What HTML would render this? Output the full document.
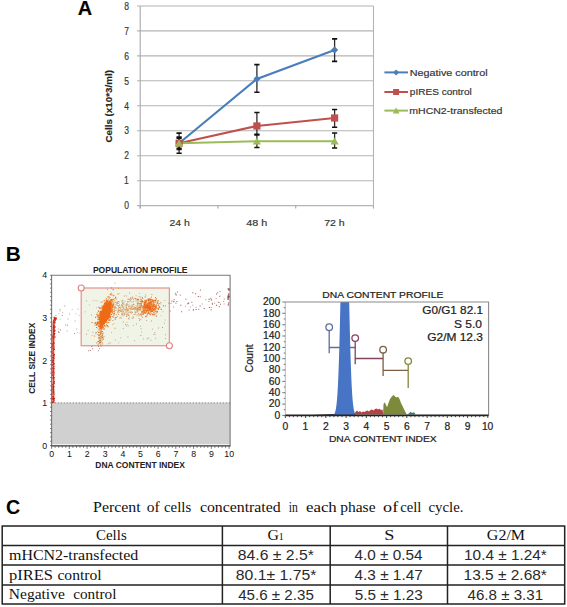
<!DOCTYPE html>
<html><head><meta charset="utf-8"><style>
html,body{margin:0;padding:0;background:#fff;}
body{width:567px;height:607px;overflow:hidden;}
svg{display:block;}
.pa text{stroke:#3a3a3a;stroke-width:0.18px;}
.pb2 text{stroke:#222;stroke-width:0.22px;}
</style></head><body>
<svg width="567" height="607" viewBox="0 0 567 607">
<rect width="567" height="607" fill="#fff"/>
<g class="pa">
<text x="77.80" y="15.00" font-family="Liberation Sans, sans-serif" font-size="19.5" font-weight="bold" fill="#000" textLength="14.44" lengthAdjust="spacingAndGlyphs">A</text>
<line x1="137" y1="205.6" x2="373.5" y2="205.6" stroke="#b4b4b4" stroke-width="1.1"/>
<text x="124.22" y="209.30" font-family="Liberation Sans, sans-serif" font-size="10.4" fill="#333" textLength="4.74" lengthAdjust="spacingAndGlyphs">0</text>
<line x1="137" y1="180.7" x2="373.5" y2="180.7" stroke="#b4b4b4" stroke-width="1.1"/>
<text x="124.12" y="184.35" font-family="Liberation Sans, sans-serif" font-size="10.4" fill="#333" textLength="4.74" lengthAdjust="spacingAndGlyphs">1</text>
<line x1="137" y1="155.7" x2="373.5" y2="155.7" stroke="#b4b4b4" stroke-width="1.1"/>
<text x="124.23" y="159.40" font-family="Liberation Sans, sans-serif" font-size="10.4" fill="#333" textLength="4.74" lengthAdjust="spacingAndGlyphs">2</text>
<line x1="137" y1="130.8" x2="373.5" y2="130.8" stroke="#b4b4b4" stroke-width="1.1"/>
<text x="124.25" y="134.45" font-family="Liberation Sans, sans-serif" font-size="10.4" fill="#333" textLength="4.74" lengthAdjust="spacingAndGlyphs">3</text>
<line x1="137" y1="105.8" x2="373.5" y2="105.8" stroke="#b4b4b4" stroke-width="1.1"/>
<text x="124.25" y="109.50" font-family="Liberation Sans, sans-serif" font-size="10.4" fill="#333" textLength="4.74" lengthAdjust="spacingAndGlyphs">4</text>
<line x1="137" y1="80.8" x2="373.5" y2="80.8" stroke="#b4b4b4" stroke-width="1.1"/>
<text x="124.23" y="84.55" font-family="Liberation Sans, sans-serif" font-size="10.4" fill="#333" textLength="4.74" lengthAdjust="spacingAndGlyphs">5</text>
<line x1="137" y1="55.9" x2="373.5" y2="55.9" stroke="#b4b4b4" stroke-width="1.1"/>
<text x="124.20" y="59.60" font-family="Liberation Sans, sans-serif" font-size="10.4" fill="#333" textLength="4.74" lengthAdjust="spacingAndGlyphs">6</text>
<line x1="137" y1="30.9" x2="373.5" y2="30.9" stroke="#b4b4b4" stroke-width="1.1"/>
<text x="124.23" y="34.65" font-family="Liberation Sans, sans-serif" font-size="10.4" fill="#333" textLength="4.74" lengthAdjust="spacingAndGlyphs">7</text>
<line x1="137" y1="6.0" x2="373.5" y2="6.0" stroke="#b4b4b4" stroke-width="1.1"/>
<text x="124.23" y="9.70" font-family="Liberation Sans, sans-serif" font-size="10.4" fill="#333" textLength="4.74" lengthAdjust="spacingAndGlyphs">8</text>
<line x1="140.2" y1="6.0" x2="140.2" y2="208.6" stroke="#a8a8a8" stroke-width="1.1"/>
<line x1="373.5" y1="6.0" x2="373.5" y2="205.6" stroke="#b4b4b4" stroke-width="1.1"/>
<line x1="140.2" y1="205.6" x2="140.2" y2="208.6" stroke="#a8a8a8" stroke-width="1.1"/>
<line x1="218.0" y1="205.6" x2="218.0" y2="208.6" stroke="#a8a8a8" stroke-width="1.1"/>
<line x1="295.7" y1="205.6" x2="295.7" y2="208.6" stroke="#a8a8a8" stroke-width="1.1"/>
<line x1="373.5" y1="205.6" x2="373.5" y2="208.6" stroke="#a8a8a8" stroke-width="1.1"/>
<text x="169.48" y="226.00" font-family="Liberation Sans, sans-serif" font-size="9.8" fill="#333" textLength="20.29" lengthAdjust="spacingAndGlyphs">24 h</text>
<text x="246.16" y="226.00" font-family="Liberation Sans, sans-serif" font-size="9.8" fill="#333" textLength="21.03" lengthAdjust="spacingAndGlyphs">48 h</text>
<text x="324.17" y="226.00" font-family="Liberation Sans, sans-serif" font-size="9.8" fill="#333" textLength="20.61" lengthAdjust="spacingAndGlyphs">72 h</text>
<text transform="translate(112.30,142.20) rotate(-90)" x="-0.39" y="0" font-family="Liberation Sans, sans-serif" font-size="9.2" font-weight="bold" fill="#222" textLength="72.49" lengthAdjust="spacingAndGlyphs">Cells (x10*3/ml)</text>
<path d="M179.1 133.1V153.3" stroke="#2a2a2a" stroke-width="1.3" fill="none"/><path d="M176.5 133.1h5.2M176.5 153.3h5.2" stroke="#111" stroke-width="1.6" fill="none"/><path d="M256.9 64.6V92.3" stroke="#2a2a2a" stroke-width="1.3" fill="none"/><path d="M254.3 64.6h5.2M254.3 92.3h5.2" stroke="#111" stroke-width="1.6" fill="none"/><path d="M334.6 38.9V61.4" stroke="#2a2a2a" stroke-width="1.3" fill="none"/><path d="M332.0 38.9h5.2M332.0 61.4h5.2" stroke="#111" stroke-width="1.6" fill="none"/><path d="M179.1 137.1V149.5" stroke="#2a2a2a" stroke-width="1.3" fill="none"/><path d="M176.5 137.1h5.2M176.5 149.5h5.2" stroke="#111" stroke-width="1.6" fill="none"/><path d="M256.9 112.5V134.2" stroke="#2a2a2a" stroke-width="1.3" fill="none"/><path d="M254.3 112.5h5.2M254.3 134.2h5.2" stroke="#111" stroke-width="1.6" fill="none"/><path d="M334.6 109.5V127.3" stroke="#2a2a2a" stroke-width="1.3" fill="none"/><path d="M332.0 109.5h5.2M332.0 127.3h5.2" stroke="#111" stroke-width="1.6" fill="none"/><path d="M179.1 138.2V148.2" stroke="#2a2a2a" stroke-width="1.3" fill="none"/><path d="M176.5 138.2h5.2M176.5 148.2h5.2" stroke="#111" stroke-width="1.6" fill="none"/><path d="M256.9 135.0V147.5" stroke="#2a2a2a" stroke-width="1.3" fill="none"/><path d="M254.3 135.0h5.2M254.3 147.5h5.2" stroke="#111" stroke-width="1.6" fill="none"/><path d="M334.6 133.0V148.0" stroke="#2a2a2a" stroke-width="1.3" fill="none"/><path d="M332.0 133.0h5.2M332.0 148.0h5.2" stroke="#111" stroke-width="1.6" fill="none"/>
<polyline points="179.1,143.2 256.9,78.9 334.6,49.9" fill="none" stroke="#4a7ebb" stroke-width="2.1"/>
<polyline points="179.1,143.2 256.9,126.0 334.6,118.0" fill="none" stroke="#c0504d" stroke-width="2.1"/>
<polyline points="179.1,143.2 256.9,141.2 334.6,141.2" fill="none" stroke="#9bbb59" stroke-width="2.1"/>
<path d="M179.1 139.6L182.7 143.2L179.1 146.8L175.5 143.2Z" fill="#4a7ebb"/>
<path d="M256.9 75.3L260.5 78.9L256.9 82.5L253.3 78.9Z" fill="#4a7ebb"/>
<path d="M334.6 46.3L338.2 49.9L334.6 53.5L331.0 49.9Z" fill="#4a7ebb"/>
<rect x="175.5" y="139.6" width="7.2" height="7.2" fill="#c0504d"/>
<rect x="253.3" y="122.4" width="7.2" height="7.2" fill="#c0504d"/>
<rect x="331.0" y="114.4" width="7.2" height="7.2" fill="#c0504d"/>
<path d="M179.1 139.6L183.2 146.6L174.9 146.6Z" fill="#9bbb59"/>
<path d="M256.9 137.6L261.0 144.6L252.7 144.6Z" fill="#9bbb59"/>
<path d="M334.6 137.6L338.8 144.6L330.5 144.6Z" fill="#9bbb59"/>
<line x1="384.4" y1="72.4" x2="408" y2="72.4" stroke="#4a7ebb" stroke-width="2"/>
<path d="M396.1 69.4L399.1 72.4L396.1 75.4L393.1 72.4Z" fill="#4a7ebb"/>
<text x="409.81" y="75.50" font-family="Liberation Sans, sans-serif" font-size="9.0" fill="#333" textLength="77.80" lengthAdjust="spacingAndGlyphs">Negative control</text>
<line x1="384.4" y1="92" x2="408" y2="92" stroke="#c0504d" stroke-width="2"/>
<rect x="393.1" y="89.0" width="6.0" height="6.0" fill="#c0504d"/>
<text x="409.85" y="95.00" font-family="Liberation Sans, sans-serif" font-size="9.0" fill="#333" textLength="61.93" lengthAdjust="spacingAndGlyphs">pIRES control</text>
<line x1="384.4" y1="110.6" x2="408" y2="110.6" stroke="#9bbb59" stroke-width="2"/>
<path d="M396.1 107.6L399.6 113.4L392.7 113.4Z" fill="#9bbb59"/>
<text x="409.29" y="113.70" font-family="Liberation Sans, sans-serif" font-size="9.0" fill="#333" textLength="93.08" lengthAdjust="spacingAndGlyphs">mHCN2-transfected</text>
</g>
<text x="5.69" y="260.60" font-family="Liberation Sans, sans-serif" font-size="19.5" font-weight="bold" fill="#000" textLength="15.04" lengthAdjust="spacingAndGlyphs">B</text>
<text x="92.92" y="272.50" font-family="Liberation Sans, sans-serif" font-size="8.6" font-weight="bold" fill="#222" textLength="94.62" lengthAdjust="spacingAndGlyphs">POPULATION PROFILE</text>
<rect x="51.6" y="402.9" width="178.5" height="41.4" fill="#d0d0d0"/>
<line x1="51.6" y1="402.9" x2="230.1" y2="402.9" stroke="#888" stroke-width="1" stroke-dasharray="1.5 1.5"/>
<rect x="81.2" y="288" width="88.2" height="57.7" fill="#eff4e7" stroke="#e29a94" stroke-width="1.3"/>
<path fill="#f3a040" d="M102.3 317.0h1.1v1.1h-1.1zM107.4 316.2h1.1v1.1h-1.1zM101.0 323.9h1.1v1.1h-1.1zM104.8 303.4h1.1v1.1h-1.1zM101.9 306.3h1.1v1.1h-1.1zM106.1 322.2h1.1v1.1h-1.1zM94.0 335.6h1.1v1.1h-1.1zM104.0 321.8h1.1v1.1h-1.1zM103.2 307.1h1.1v1.1h-1.1zM109.5 310.8h1.1v1.1h-1.1zM103.8 324.2h1.1v1.1h-1.1zM106.8 302.6h1.1v1.1h-1.1zM104.8 310.2h1.1v1.1h-1.1zM108.6 313.2h1.1v1.1h-1.1zM103.3 315.0h1.1v1.1h-1.1zM99.1 312.8h1.1v1.1h-1.1zM104.1 322.4h1.1v1.1h-1.1zM107.5 305.6h1.1v1.1h-1.1zM102.4 322.9h1.1v1.1h-1.1zM101.8 324.9h1.1v1.1h-1.1zM99.4 312.7h1.1v1.1h-1.1zM98.3 314.2h1.1v1.1h-1.1zM109.8 317.1h1.1v1.1h-1.1zM101.6 309.3h1.1v1.1h-1.1zM112.6 303.6h1.1v1.1h-1.1zM98.7 313.3h1.1v1.1h-1.1zM106.5 309.0h1.1v1.1h-1.1zM102.2 319.8h1.1v1.1h-1.1zM100.7 310.8h1.1v1.1h-1.1zM107.2 309.2h1.1v1.1h-1.1zM102.5 308.5h1.1v1.1h-1.1zM105.6 309.1h1.1v1.1h-1.1zM107.3 307.8h1.1v1.1h-1.1zM104.1 314.4h1.1v1.1h-1.1zM108.4 318.3h1.1v1.1h-1.1zM117.8 287.8h1.1v1.1h-1.1zM100.6 316.4h1.1v1.1h-1.1zM103.5 303.6h1.1v1.1h-1.1zM99.4 327.8h1.1v1.1h-1.1zM112.2 306.8h1.1v1.1h-1.1zM104.5 312.8h1.1v1.1h-1.1zM108.4 302.6h1.1v1.1h-1.1zM100.4 313.7h1.1v1.1h-1.1zM113.4 312.9h1.1v1.1h-1.1zM100.5 316.1h1.1v1.1h-1.1zM112.1 308.1h1.1v1.1h-1.1zM108.8 304.2h1.1v1.1h-1.1zM100.6 317.6h1.1v1.1h-1.1zM113.8 300.0h1.1v1.1h-1.1zM109.2 312.2h1.1v1.1h-1.1zM107.6 312.6h1.1v1.1h-1.1zM103.3 317.9h1.1v1.1h-1.1zM106.9 322.3h1.1v1.1h-1.1zM107.5 306.9h1.1v1.1h-1.1zM105.7 308.7h1.1v1.1h-1.1zM101.5 316.2h1.1v1.1h-1.1zM107.9 310.8h1.1v1.1h-1.1zM110.0 307.9h1.1v1.1h-1.1zM106.2 318.3h1.1v1.1h-1.1zM105.4 313.7h1.1v1.1h-1.1zM100.7 318.1h1.1v1.1h-1.1zM108.4 310.4h1.1v1.1h-1.1zM104.6 321.3h1.1v1.1h-1.1zM97.8 314.5h1.1v1.1h-1.1zM103.6 316.0h1.1v1.1h-1.1zM112.3 313.1h1.1v1.1h-1.1zM103.3 316.4h1.1v1.1h-1.1zM104.4 302.7h1.1v1.1h-1.1zM102.5 311.7h1.1v1.1h-1.1zM106.9 289.0h1.1v1.1h-1.1zM114.6 298.1h1.1v1.1h-1.1zM108.1 309.1h1.1v1.1h-1.1zM101.6 314.1h1.1v1.1h-1.1zM114.5 327.8h1.1v1.1h-1.1z"/>
<path fill="#d08040" d="M106.7 318.9h1.1v1.1h-1.1zM109.2 320.0h1.1v1.1h-1.1zM99.3 316.8h1.1v1.1h-1.1zM102.9 305.3h1.1v1.1h-1.1zM106.2 306.4h1.1v1.1h-1.1zM102.9 311.7h1.1v1.1h-1.1zM106.3 312.5h1.1v1.1h-1.1zM101.0 320.9h1.1v1.1h-1.1zM106.2 318.6h1.1v1.1h-1.1zM113.2 303.8h1.1v1.1h-1.1zM100.0 312.3h1.1v1.1h-1.1zM102.7 317.5h1.1v1.1h-1.1zM102.6 307.1h1.1v1.1h-1.1zM104.5 309.1h1.1v1.1h-1.1zM105.4 318.5h1.1v1.1h-1.1zM99.6 334.1h1.1v1.1h-1.1zM106.2 306.2h1.1v1.1h-1.1zM100.3 307.8h1.1v1.1h-1.1zM99.6 326.0h1.1v1.1h-1.1zM95.0 316.8h1.1v1.1h-1.1zM105.6 319.8h1.1v1.1h-1.1zM109.6 307.9h1.1v1.1h-1.1zM106.3 310.4h1.1v1.1h-1.1zM102.4 311.6h1.1v1.1h-1.1zM101.8 314.7h1.1v1.1h-1.1zM110.8 309.8h1.1v1.1h-1.1zM101.8 317.3h1.1v1.1h-1.1zM105.7 318.3h1.1v1.1h-1.1zM99.3 318.7h1.1v1.1h-1.1zM106.5 312.7h1.1v1.1h-1.1zM111.5 303.4h1.1v1.1h-1.1zM103.0 320.3h1.1v1.1h-1.1zM102.7 312.1h1.1v1.1h-1.1zM105.5 311.7h1.1v1.1h-1.1zM111.5 304.7h1.1v1.1h-1.1zM107.8 314.2h1.1v1.1h-1.1zM103.6 307.3h1.1v1.1h-1.1zM105.1 314.4h1.1v1.1h-1.1zM103.5 316.2h1.1v1.1h-1.1zM106.5 310.3h1.1v1.1h-1.1zM105.6 315.7h1.1v1.1h-1.1zM105.8 313.5h1.1v1.1h-1.1zM105.9 306.0h1.1v1.1h-1.1zM109.1 313.9h1.1v1.1h-1.1zM105.4 315.0h1.1v1.1h-1.1zM106.9 312.1h1.1v1.1h-1.1zM105.0 312.5h1.1v1.1h-1.1zM109.7 294.1h1.1v1.1h-1.1zM109.2 314.4h1.1v1.1h-1.1zM103.5 315.5h1.1v1.1h-1.1zM104.9 308.7h1.1v1.1h-1.1zM101.0 314.8h1.1v1.1h-1.1zM97.9 315.3h1.1v1.1h-1.1zM103.5 321.3h1.1v1.1h-1.1zM98.2 325.8h1.1v1.1h-1.1zM102.4 308.6h1.1v1.1h-1.1zM100.4 311.4h1.1v1.1h-1.1zM99.8 317.3h1.1v1.1h-1.1zM107.5 315.7h1.1v1.1h-1.1zM107.7 299.2h1.1v1.1h-1.1zM105.8 307.3h1.1v1.1h-1.1zM102.8 319.0h1.1v1.1h-1.1zM95.1 322.3h1.1v1.1h-1.1zM104.7 313.5h1.1v1.1h-1.1zM111.4 294.3h1.1v1.1h-1.1zM99.4 326.4h1.1v1.1h-1.1zM104.2 307.2h1.1v1.1h-1.1zM107.8 305.9h1.1v1.1h-1.1zM103.1 308.4h1.1v1.1h-1.1zM105.6 321.3h1.1v1.1h-1.1z"/>
<path fill="#f0b868" d="M101.9 301.1h1.1v1.1h-1.1zM107.0 309.2h1.1v1.1h-1.1zM103.3 307.7h1.1v1.1h-1.1zM101.3 317.3h1.1v1.1h-1.1zM107.9 315.5h1.1v1.1h-1.1zM104.2 305.3h1.1v1.1h-1.1zM106.6 308.4h1.1v1.1h-1.1zM107.0 312.2h1.1v1.1h-1.1zM104.3 307.2h1.1v1.1h-1.1zM104.6 310.3h1.1v1.1h-1.1zM101.6 312.7h1.1v1.1h-1.1zM108.9 309.4h1.1v1.1h-1.1zM105.1 302.8h1.1v1.1h-1.1zM112.3 298.6h1.1v1.1h-1.1zM108.6 311.6h1.1v1.1h-1.1zM106.3 307.5h1.1v1.1h-1.1zM105.5 305.5h1.1v1.1h-1.1zM107.1 313.2h1.1v1.1h-1.1zM106.6 314.7h1.1v1.1h-1.1zM113.6 298.3h1.1v1.1h-1.1zM106.8 308.1h1.1v1.1h-1.1zM99.0 315.5h1.1v1.1h-1.1zM114.0 306.6h1.1v1.1h-1.1zM100.8 316.8h1.1v1.1h-1.1zM112.8 295.4h1.1v1.1h-1.1zM107.5 310.0h1.1v1.1h-1.1zM103.6 312.2h1.1v1.1h-1.1zM97.0 331.1h1.1v1.1h-1.1zM106.4 309.6h1.1v1.1h-1.1zM108.2 310.7h1.1v1.1h-1.1zM107.7 312.5h1.1v1.1h-1.1zM109.6 316.1h1.1v1.1h-1.1zM108.0 312.5h1.1v1.1h-1.1zM108.1 313.1h1.1v1.1h-1.1zM109.5 312.5h1.1v1.1h-1.1zM110.0 319.1h1.1v1.1h-1.1zM105.8 317.2h1.1v1.1h-1.1zM101.8 318.5h1.1v1.1h-1.1zM103.8 325.2h1.1v1.1h-1.1zM109.9 296.9h1.1v1.1h-1.1zM110.5 303.4h1.1v1.1h-1.1zM102.0 306.9h1.1v1.1h-1.1zM100.0 327.5h1.1v1.1h-1.1zM109.6 301.1h1.1v1.1h-1.1zM105.8 301.0h1.1v1.1h-1.1zM106.5 312.7h1.1v1.1h-1.1zM108.1 313.7h1.1v1.1h-1.1zM111.8 305.5h1.1v1.1h-1.1zM106.3 304.3h1.1v1.1h-1.1zM107.0 309.5h1.1v1.1h-1.1zM110.6 302.2h1.1v1.1h-1.1zM96.9 311.9h1.1v1.1h-1.1zM102.8 308.7h1.1v1.1h-1.1zM108.4 313.9h1.1v1.1h-1.1zM103.1 310.1h1.1v1.1h-1.1zM102.8 315.7h1.1v1.1h-1.1zM96.5 323.0h1.1v1.1h-1.1zM97.2 321.0h1.1v1.1h-1.1zM104.8 321.1h1.1v1.1h-1.1zM105.2 306.4h1.1v1.1h-1.1zM95.1 331.7h1.1v1.1h-1.1zM101.5 320.1h1.1v1.1h-1.1zM102.0 313.0h1.1v1.1h-1.1zM108.2 302.5h1.1v1.1h-1.1zM102.5 312.2h1.1v1.1h-1.1zM105.5 321.8h1.1v1.1h-1.1zM105.2 313.7h1.1v1.1h-1.1zM97.8 318.1h1.1v1.1h-1.1zM114.4 282.6h1.1v1.1h-1.1zM106.6 321.5h1.1v1.1h-1.1zM94.5 324.9h1.1v1.1h-1.1zM106.2 310.1h1.1v1.1h-1.1zM111.4 300.1h1.1v1.1h-1.1zM101.7 311.0h1.1v1.1h-1.1zM100.2 312.6h1.1v1.1h-1.1zM103.3 319.3h1.1v1.1h-1.1zM102.4 319.9h1.1v1.1h-1.1zM100.4 320.0h1.1v1.1h-1.1zM111.4 315.8h1.1v1.1h-1.1zM100.2 335.6h1.1v1.1h-1.1zM108.9 310.4h1.1v1.1h-1.1zM102.4 321.2h1.1v1.1h-1.1zM103.5 304.1h1.1v1.1h-1.1z"/>
<path fill="#e07020" d="M104.4 304.9h1.1v1.1h-1.1zM108.8 303.5h1.1v1.1h-1.1zM99.1 307.7h1.1v1.1h-1.1zM100.6 319.0h1.1v1.1h-1.1zM107.7 319.6h1.1v1.1h-1.1zM94.7 322.2h1.1v1.1h-1.1zM111.0 287.5h1.1v1.1h-1.1zM96.6 315.2h1.1v1.1h-1.1zM100.2 317.1h1.1v1.1h-1.1zM110.2 311.2h1.1v1.1h-1.1zM105.1 326.2h1.1v1.1h-1.1zM110.9 314.0h1.1v1.1h-1.1zM107.0 309.4h1.1v1.1h-1.1zM111.0 299.1h1.1v1.1h-1.1zM107.6 326.2h1.1v1.1h-1.1zM108.4 316.4h1.1v1.1h-1.1zM107.1 308.5h1.1v1.1h-1.1zM98.4 306.8h1.1v1.1h-1.1zM107.8 305.3h1.1v1.1h-1.1zM111.4 306.6h1.1v1.1h-1.1zM99.5 321.5h1.1v1.1h-1.1zM106.7 303.5h1.1v1.1h-1.1zM103.9 328.4h1.1v1.1h-1.1zM98.7 334.4h1.1v1.1h-1.1zM103.8 321.3h1.1v1.1h-1.1zM102.9 317.3h1.1v1.1h-1.1zM99.2 317.6h1.1v1.1h-1.1zM108.2 322.0h1.1v1.1h-1.1zM114.6 318.7h1.1v1.1h-1.1zM103.0 310.9h1.1v1.1h-1.1zM102.5 311.4h1.1v1.1h-1.1zM105.9 324.5h1.1v1.1h-1.1zM105.8 303.0h1.1v1.1h-1.1zM103.3 313.7h1.1v1.1h-1.1zM102.4 313.4h1.1v1.1h-1.1zM104.5 313.1h1.1v1.1h-1.1zM103.3 316.5h1.1v1.1h-1.1zM106.1 300.3h1.1v1.1h-1.1zM110.2 299.3h1.1v1.1h-1.1zM109.1 319.5h1.1v1.1h-1.1zM108.6 311.9h1.1v1.1h-1.1zM105.1 309.9h1.1v1.1h-1.1zM112.7 289.1h1.1v1.1h-1.1zM103.2 316.1h1.1v1.1h-1.1zM97.9 310.6h1.1v1.1h-1.1zM105.0 313.1h1.1v1.1h-1.1zM103.6 316.0h1.1v1.1h-1.1zM105.5 310.1h1.1v1.1h-1.1zM101.4 315.7h1.1v1.1h-1.1zM104.9 309.9h1.1v1.1h-1.1zM112.3 305.0h1.1v1.1h-1.1zM106.9 325.1h1.1v1.1h-1.1zM104.8 320.3h1.1v1.1h-1.1zM94.4 323.2h1.1v1.1h-1.1zM111.5 309.7h1.1v1.1h-1.1zM104.7 304.3h1.1v1.1h-1.1zM107.4 314.3h1.1v1.1h-1.1zM106.1 315.5h1.1v1.1h-1.1zM105.7 316.6h1.1v1.1h-1.1zM107.1 311.9h1.1v1.1h-1.1zM102.0 317.3h1.1v1.1h-1.1zM108.6 317.1h1.1v1.1h-1.1zM117.5 293.5h1.1v1.1h-1.1zM101.6 305.5h1.1v1.1h-1.1zM96.4 324.1h1.1v1.1h-1.1zM97.8 324.6h1.1v1.1h-1.1zM107.5 315.7h1.1v1.1h-1.1zM106.8 314.7h1.1v1.1h-1.1zM107.4 303.1h1.1v1.1h-1.1zM113.3 295.0h1.1v1.1h-1.1zM91.6 322.0h1.1v1.1h-1.1zM104.1 317.2h1.1v1.1h-1.1zM112.5 299.0h1.1v1.1h-1.1z"/>
<path fill="#c08050" d="M100.5 338.7h1.0v1.0h-1.0zM101.7 331.1h1.0v1.0h-1.0zM99.8 324.6h1.0v1.0h-1.0zM97.9 325.9h1.0v1.0h-1.0zM97.5 341.0h1.0v1.0h-1.0zM101.4 335.6h1.0v1.0h-1.0zM100.4 344.2h1.0v1.0h-1.0zM100.2 338.2h1.0v1.0h-1.0zM99.2 342.2h1.0v1.0h-1.0zM101.8 325.6h1.0v1.0h-1.0zM99.0 335.2h1.0v1.0h-1.0zM99.4 326.8h1.0v1.0h-1.0zM97.4 322.9h1.0v1.0h-1.0zM103.3 325.8h1.0v1.0h-1.0zM98.2 341.1h1.0v1.0h-1.0zM101.5 326.6h1.0v1.0h-1.0zM99.7 336.8h1.0v1.0h-1.0zM97.4 333.9h1.0v1.0h-1.0zM101.7 337.5h1.0v1.0h-1.0zM99.9 332.5h1.0v1.0h-1.0zM101.2 332.6h1.0v1.0h-1.0zM100.7 326.9h1.0v1.0h-1.0zM100.2 326.3h1.0v1.0h-1.0z"/>
<path fill="#b07050" d="M99.1 324.2h1.0v1.0h-1.0zM101.6 326.4h1.0v1.0h-1.0zM100.8 329.5h1.0v1.0h-1.0zM100.2 341.7h1.0v1.0h-1.0zM99.6 338.0h1.0v1.0h-1.0zM102.8 323.5h1.0v1.0h-1.0zM99.3 339.8h1.0v1.0h-1.0zM98.5 342.8h1.0v1.0h-1.0zM101.8 322.0h1.0v1.0h-1.0zM98.2 335.2h1.0v1.0h-1.0zM98.1 332.0h1.0v1.0h-1.0zM102.6 336.6h1.0v1.0h-1.0zM103.0 338.6h1.0v1.0h-1.0zM99.7 340.0h1.0v1.0h-1.0zM99.5 342.3h1.0v1.0h-1.0zM100.7 333.0h1.0v1.0h-1.0zM99.8 340.1h1.0v1.0h-1.0zM101.7 336.7h1.0v1.0h-1.0zM99.1 337.6h1.0v1.0h-1.0zM101.3 330.9h1.0v1.0h-1.0zM100.0 331.4h1.0v1.0h-1.0zM100.0 336.7h1.0v1.0h-1.0zM100.2 342.3h1.0v1.0h-1.0z"/>
<path fill="#e07830" d="M99.2 326.6h1.0v1.0h-1.0zM98.8 337.8h1.0v1.0h-1.0zM100.8 333.1h1.0v1.0h-1.0zM100.4 328.0h1.0v1.0h-1.0zM98.8 329.0h1.0v1.0h-1.0zM100.1 326.2h1.0v1.0h-1.0zM98.4 337.8h1.0v1.0h-1.0zM101.8 333.2h1.0v1.0h-1.0zM100.1 336.9h1.0v1.0h-1.0zM97.7 344.2h1.0v1.0h-1.0zM101.5 330.9h1.0v1.0h-1.0zM98.3 337.0h1.0v1.0h-1.0zM101.1 328.0h1.0v1.0h-1.0zM101.0 328.5h1.0v1.0h-1.0zM100.4 332.4h1.0v1.0h-1.0zM100.3 324.6h1.0v1.0h-1.0zM101.1 336.8h1.0v1.0h-1.0zM100.1 333.4h1.0v1.0h-1.0zM100.7 331.0h1.0v1.0h-1.0zM100.5 326.1h1.0v1.0h-1.0zM102.6 327.3h1.0v1.0h-1.0zM101.1 326.3h1.0v1.0h-1.0zM101.8 342.4h1.0v1.0h-1.0zM98.9 340.1h1.0v1.0h-1.0zM101.7 335.2h1.0v1.0h-1.0zM100.9 337.1h1.0v1.0h-1.0zM102.0 335.1h1.0v1.0h-1.0zM102.3 333.7h1.0v1.0h-1.0zM99.6 341.0h1.0v1.0h-1.0zM98.8 325.1h1.0v1.0h-1.0zM100.3 327.6h1.0v1.0h-1.0z"/>
<path fill="#f0a050" d="M99.0 337.8h1.0v1.0h-1.0zM99.5 337.7h1.0v1.0h-1.0zM103.1 332.4h1.0v1.0h-1.0zM101.0 340.6h1.0v1.0h-1.0zM99.2 325.1h1.0v1.0h-1.0zM99.3 340.8h1.0v1.0h-1.0zM103.4 326.3h1.0v1.0h-1.0zM99.8 337.1h1.0v1.0h-1.0zM100.1 337.4h1.0v1.0h-1.0zM100.5 329.3h1.0v1.0h-1.0zM101.0 332.5h1.0v1.0h-1.0zM100.8 337.3h1.0v1.0h-1.0zM98.6 325.6h1.0v1.0h-1.0zM97.5 328.3h1.0v1.0h-1.0zM102.7 329.0h1.0v1.0h-1.0zM99.2 329.6h1.0v1.0h-1.0zM99.9 338.0h1.0v1.0h-1.0zM99.7 324.2h1.0v1.0h-1.0zM98.8 323.7h1.0v1.0h-1.0zM100.4 332.1h1.0v1.0h-1.0zM100.4 341.5h1.0v1.0h-1.0zM100.1 328.5h1.0v1.0h-1.0zM103.7 336.3h1.0v1.0h-1.0zM100.0 331.1h1.0v1.0h-1.0zM101.9 339.6h1.0v1.0h-1.0zM101.4 324.6h1.0v1.0h-1.0zM100.2 330.3h1.0v1.0h-1.0zM102.2 343.6h1.0v1.0h-1.0zM98.4 338.8h1.0v1.0h-1.0zM100.6 329.2h1.0v1.0h-1.0zM96.2 342.2h1.0v1.0h-1.0zM99.9 338.8h1.0v1.0h-1.0zM102.4 338.4h1.0v1.0h-1.0z"/>
<path fill="#e8b878" d="M148.0 308.3h1.0v1.0h-1.0zM143.9 307.5h1.0v1.0h-1.0zM152.9 301.5h1.0v1.0h-1.0zM153.1 303.4h1.0v1.0h-1.0zM142.7 309.6h1.0v1.0h-1.0zM138.5 304.1h1.0v1.0h-1.0zM152.6 305.8h1.0v1.0h-1.0zM147.3 299.4h1.0v1.0h-1.0zM148.4 310.7h1.0v1.0h-1.0zM149.3 308.5h1.0v1.0h-1.0zM141.7 306.7h1.0v1.0h-1.0zM147.7 305.4h1.0v1.0h-1.0zM149.5 303.2h1.0v1.0h-1.0zM151.7 313.0h1.0v1.0h-1.0zM148.1 300.8h1.0v1.0h-1.0zM151.9 301.2h1.0v1.0h-1.0zM148.6 308.9h1.0v1.0h-1.0zM122.6 315.6h1.0v1.0h-1.0zM151.1 310.1h1.0v1.0h-1.0zM134.7 307.0h1.0v1.0h-1.0zM157.9 304.9h1.0v1.0h-1.0zM160.6 315.3h1.0v1.0h-1.0zM141.7 301.5h1.0v1.0h-1.0zM153.1 302.3h1.0v1.0h-1.0zM149.2 307.2h1.0v1.0h-1.0zM140.1 308.9h1.0v1.0h-1.0zM140.6 306.1h1.0v1.0h-1.0zM141.9 306.8h1.0v1.0h-1.0zM143.7 302.4h1.0v1.0h-1.0zM147.2 303.8h1.0v1.0h-1.0zM138.3 308.4h1.0v1.0h-1.0zM150.3 305.2h1.0v1.0h-1.0zM149.6 306.1h1.0v1.0h-1.0zM160.4 303.6h1.0v1.0h-1.0zM144.6 306.5h1.0v1.0h-1.0zM155.6 300.4h1.0v1.0h-1.0zM150.4 302.3h1.0v1.0h-1.0zM138.3 301.4h1.0v1.0h-1.0zM149.4 303.3h1.0v1.0h-1.0zM144.1 310.8h1.0v1.0h-1.0zM154.8 305.8h1.0v1.0h-1.0zM136.0 306.8h1.0v1.0h-1.0zM154.6 300.8h1.0v1.0h-1.0zM156.2 308.2h1.0v1.0h-1.0zM151.9 306.9h1.0v1.0h-1.0zM142.6 303.2h1.0v1.0h-1.0zM137.5 309.1h1.0v1.0h-1.0zM134.4 308.1h1.0v1.0h-1.0zM155.3 313.6h1.0v1.0h-1.0zM151.1 304.6h1.0v1.0h-1.0zM137.0 302.6h1.0v1.0h-1.0zM147.5 302.9h1.0v1.0h-1.0zM144.7 304.4h1.0v1.0h-1.0zM145.7 300.6h1.0v1.0h-1.0zM158.4 307.7h1.0v1.0h-1.0zM139.2 314.7h1.0v1.0h-1.0zM150.9 296.5h1.0v1.0h-1.0z"/>
<path fill="#e88838" d="M145.9 315.8h1.0v1.0h-1.0zM154.9 307.0h1.0v1.0h-1.0zM145.0 306.6h1.0v1.0h-1.0zM153.3 306.1h1.0v1.0h-1.0zM145.9 299.9h1.0v1.0h-1.0zM144.5 299.8h1.0v1.0h-1.0zM152.3 303.8h1.0v1.0h-1.0zM145.5 305.7h1.0v1.0h-1.0zM155.2 306.4h1.0v1.0h-1.0zM152.8 308.6h1.0v1.0h-1.0zM165.0 305.6h1.0v1.0h-1.0zM151.9 299.7h1.0v1.0h-1.0zM142.9 311.5h1.0v1.0h-1.0zM158.2 305.2h1.0v1.0h-1.0zM151.0 303.6h1.0v1.0h-1.0zM146.4 308.3h1.0v1.0h-1.0zM134.5 307.0h1.0v1.0h-1.0zM151.6 309.6h1.0v1.0h-1.0zM149.5 304.0h1.0v1.0h-1.0zM148.9 304.7h1.0v1.0h-1.0zM150.1 306.9h1.0v1.0h-1.0zM141.1 301.6h1.0v1.0h-1.0zM150.8 312.9h1.0v1.0h-1.0zM149.5 301.0h1.0v1.0h-1.0zM147.5 306.3h1.0v1.0h-1.0zM149.2 308.4h1.0v1.0h-1.0zM148.2 304.0h1.0v1.0h-1.0zM142.1 316.7h1.0v1.0h-1.0zM142.4 311.2h1.0v1.0h-1.0zM137.3 307.2h1.0v1.0h-1.0zM146.6 315.3h1.0v1.0h-1.0zM146.9 307.7h1.0v1.0h-1.0zM147.7 307.5h1.0v1.0h-1.0zM147.7 305.7h1.0v1.0h-1.0zM154.4 302.1h1.0v1.0h-1.0zM143.0 310.7h1.0v1.0h-1.0zM152.7 302.6h1.0v1.0h-1.0zM152.2 307.8h1.0v1.0h-1.0zM156.4 307.9h1.0v1.0h-1.0zM140.0 303.3h1.0v1.0h-1.0zM149.6 304.7h1.0v1.0h-1.0zM142.3 306.8h1.0v1.0h-1.0zM151.4 294.1h1.0v1.0h-1.0zM153.5 300.3h1.0v1.0h-1.0zM145.1 307.0h1.0v1.0h-1.0zM148.3 308.3h1.0v1.0h-1.0zM154.2 311.4h1.0v1.0h-1.0zM151.2 310.7h1.0v1.0h-1.0zM155.0 297.1h1.0v1.0h-1.0zM155.6 298.0h1.0v1.0h-1.0zM154.1 308.6h1.0v1.0h-1.0zM147.7 308.2h1.0v1.0h-1.0z"/>
<path fill="#b89078" d="M145.8 300.7h1.0v1.0h-1.0zM146.4 299.4h1.0v1.0h-1.0zM140.7 299.1h1.0v1.0h-1.0zM141.8 300.8h1.0v1.0h-1.0zM147.8 310.6h1.0v1.0h-1.0zM158.9 306.1h1.0v1.0h-1.0zM142.6 311.4h1.0v1.0h-1.0zM145.2 302.2h1.0v1.0h-1.0zM149.9 304.7h1.0v1.0h-1.0zM149.3 303.4h1.0v1.0h-1.0zM149.1 307.8h1.0v1.0h-1.0zM141.8 297.1h1.0v1.0h-1.0zM142.2 298.1h1.0v1.0h-1.0zM150.5 306.2h1.0v1.0h-1.0zM141.7 314.1h1.0v1.0h-1.0zM147.2 310.3h1.0v1.0h-1.0zM137.0 303.0h1.0v1.0h-1.0zM143.8 310.4h1.0v1.0h-1.0zM143.3 305.9h1.0v1.0h-1.0zM145.7 309.7h1.0v1.0h-1.0zM146.5 305.6h1.0v1.0h-1.0zM156.6 302.4h1.0v1.0h-1.0zM151.0 304.1h1.0v1.0h-1.0zM143.9 304.6h1.0v1.0h-1.0zM133.9 308.7h1.0v1.0h-1.0zM159.2 303.1h1.0v1.0h-1.0zM147.9 307.6h1.0v1.0h-1.0zM152.8 300.3h1.0v1.0h-1.0zM144.2 306.7h1.0v1.0h-1.0zM145.8 306.5h1.0v1.0h-1.0zM149.2 302.5h1.0v1.0h-1.0zM150.0 308.8h1.0v1.0h-1.0zM169.9 310.5h1.0v1.0h-1.0zM144.6 304.3h1.0v1.0h-1.0zM147.7 304.0h1.0v1.0h-1.0zM153.7 314.5h1.0v1.0h-1.0zM155.8 316.1h1.0v1.0h-1.0zM157.6 303.3h1.0v1.0h-1.0zM145.3 307.5h1.0v1.0h-1.0zM148.3 309.2h1.0v1.0h-1.0zM151.1 305.0h1.0v1.0h-1.0zM145.2 307.4h1.0v1.0h-1.0zM137.8 309.0h1.0v1.0h-1.0zM142.5 305.5h1.0v1.0h-1.0zM153.3 314.3h1.0v1.0h-1.0zM156.0 311.2h1.0v1.0h-1.0zM115.7 307.2h1.0v1.0h-1.0zM134.6 307.1h1.0v1.0h-1.0zM135.4 300.6h1.0v1.0h-1.0zM115.0 306.5h1.0v1.0h-1.0zM118.2 301.1h1.0v1.0h-1.0zM117.8 310.6h1.0v1.0h-1.0zM112.4 320.0h1.0v1.0h-1.0zM127.5 304.6h1.0v1.0h-1.0zM120.5 316.7h1.0v1.0h-1.0zM125.7 304.5h1.0v1.0h-1.0zM129.6 305.4h1.0v1.0h-1.0zM122.8 311.1h1.0v1.0h-1.0zM113.9 313.0h1.0v1.0h-1.0zM132.9 301.2h1.0v1.0h-1.0zM121.4 300.7h1.0v1.0h-1.0zM128.5 318.5h1.0v1.0h-1.0zM111.3 307.5h1.0v1.0h-1.0zM139.0 319.7h1.0v1.0h-1.0zM122.6 303.4h1.0v1.0h-1.0zM131.5 305.5h1.0v1.0h-1.0zM115.8 301.7h1.0v1.0h-1.0zM110.6 308.0h1.0v1.0h-1.0zM137.0 311.2h1.0v1.0h-1.0zM117.4 311.4h1.0v1.0h-1.0zM121.6 313.7h1.0v1.0h-1.0zM122.8 321.5h1.0v1.0h-1.0zM116.4 304.4h1.0v1.0h-1.0zM115.4 310.0h1.0v1.0h-1.0zM139.7 314.0h1.0v1.0h-1.0zM113.3 314.5h1.0v1.0h-1.0zM112.6 316.5h1.0v1.0h-1.0zM116.5 302.9h1.0v1.0h-1.0zM111.4 304.5h1.0v1.0h-1.0zM123.0 303.5h1.0v1.0h-1.0zM111.7 309.2h1.0v1.0h-1.0zM111.9 305.1h1.0v1.0h-1.0zM121.6 304.9h1.0v1.0h-1.0zM114.0 310.3h1.0v1.0h-1.0zM110.9 306.4h1.0v1.0h-1.0zM132.3 305.4h1.0v1.0h-1.0zM140.2 298.4h1.0v1.0h-1.0zM130.5 299.1h1.0v1.0h-1.0zM113.7 306.1h1.0v1.0h-1.0zM133.5 306.4h1.0v1.0h-1.0zM120.4 311.1h1.0v1.0h-1.0zM114.7 317.2h1.0v1.0h-1.0zM125.8 304.8h1.0v1.0h-1.0zM136.9 304.2h1.0v1.0h-1.0zM137.0 309.3h1.0v1.0h-1.0zM135.4 312.0h1.0v1.0h-1.0zM128.2 315.0h1.0v1.0h-1.0zM125.4 305.2h1.0v1.0h-1.0zM127.0 301.2h1.0v1.0h-1.0zM121.9 302.5h1.0v1.0h-1.0zM135.4 307.9h1.0v1.0h-1.0zM114.3 307.2h1.0v1.0h-1.0zM127.7 309.9h1.0v1.0h-1.0zM110.9 303.7h1.0v1.0h-1.0zM126.5 303.7h1.0v1.0h-1.0zM119.0 307.1h1.0v1.0h-1.0zM121.8 300.3h1.0v1.0h-1.0zM131.6 317.8h1.0v1.0h-1.0zM132.7 303.7h1.0v1.0h-1.0zM126.1 315.9h1.0v1.0h-1.0zM122.8 303.6h1.0v1.0h-1.0zM139.3 305.4h1.0v1.0h-1.0zM132.9 317.3h1.0v1.0h-1.0zM138.4 303.1h1.0v1.0h-1.0zM138.3 299.1h1.0v1.0h-1.0zM110.7 301.4h1.0v1.0h-1.0zM117.1 302.5h1.0v1.0h-1.0zM131.5 309.1h1.0v1.0h-1.0zM129.9 300.6h1.0v1.0h-1.0zM123.4 301.6h1.0v1.0h-1.0z"/>
<path fill="#d09858" d="M154.0 300.1h1.0v1.0h-1.0zM143.7 302.6h1.0v1.0h-1.0zM156.4 307.4h1.0v1.0h-1.0zM145.1 294.5h1.0v1.0h-1.0zM135.1 312.2h1.0v1.0h-1.0zM155.9 303.8h1.0v1.0h-1.0zM142.0 300.0h1.0v1.0h-1.0zM143.2 306.8h1.0v1.0h-1.0zM149.9 300.7h1.0v1.0h-1.0zM148.5 308.2h1.0v1.0h-1.0zM143.7 304.7h1.0v1.0h-1.0zM150.0 310.8h1.0v1.0h-1.0zM142.4 313.0h1.0v1.0h-1.0zM145.7 303.9h1.0v1.0h-1.0zM131.5 297.6h1.0v1.0h-1.0zM154.9 308.7h1.0v1.0h-1.0zM158.8 306.9h1.0v1.0h-1.0zM141.3 311.9h1.0v1.0h-1.0zM144.2 308.7h1.0v1.0h-1.0zM133.2 299.3h1.0v1.0h-1.0zM141.4 311.1h1.0v1.0h-1.0zM146.3 309.4h1.0v1.0h-1.0zM147.6 308.6h1.0v1.0h-1.0zM149.8 302.9h1.0v1.0h-1.0zM144.1 305.9h1.0v1.0h-1.0zM150.9 296.7h1.0v1.0h-1.0zM134.4 311.2h1.0v1.0h-1.0zM148.5 307.3h1.0v1.0h-1.0zM168.2 302.8h1.0v1.0h-1.0zM153.8 309.9h1.0v1.0h-1.0zM160.4 302.1h1.0v1.0h-1.0zM154.1 305.3h1.0v1.0h-1.0zM139.4 306.9h1.0v1.0h-1.0zM143.3 312.8h1.0v1.0h-1.0zM146.6 300.1h1.0v1.0h-1.0zM143.6 304.3h1.0v1.0h-1.0zM140.7 299.8h1.0v1.0h-1.0zM143.9 307.5h1.0v1.0h-1.0zM150.6 301.9h1.0v1.0h-1.0zM150.2 312.1h1.0v1.0h-1.0zM152.9 301.1h1.0v1.0h-1.0zM148.8 303.0h1.0v1.0h-1.0zM140.7 301.1h1.0v1.0h-1.0zM154.9 311.3h1.0v1.0h-1.0zM147.1 306.4h1.0v1.0h-1.0z"/>
<path fill="#c8a078" d="M111.1 311.8h1.0v1.0h-1.0zM139.2 306.8h1.0v1.0h-1.0zM114.3 308.0h1.0v1.0h-1.0zM113.9 311.7h1.0v1.0h-1.0zM127.0 309.7h1.0v1.0h-1.0zM129.4 300.8h1.0v1.0h-1.0zM110.9 301.4h1.0v1.0h-1.0zM126.6 311.3h1.0v1.0h-1.0zM123.4 306.5h1.0v1.0h-1.0zM118.8 307.0h1.0v1.0h-1.0zM122.3 305.9h1.0v1.0h-1.0zM130.1 298.0h1.0v1.0h-1.0zM126.2 306.5h1.0v1.0h-1.0zM126.4 303.4h1.0v1.0h-1.0zM128.3 305.6h1.0v1.0h-1.0zM120.5 306.9h1.0v1.0h-1.0zM137.1 309.9h1.0v1.0h-1.0zM122.9 307.7h1.0v1.0h-1.0zM113.2 306.9h1.0v1.0h-1.0zM121.1 309.8h1.0v1.0h-1.0zM136.4 310.6h1.0v1.0h-1.0zM127.7 298.4h1.0v1.0h-1.0zM126.1 308.9h1.0v1.0h-1.0zM122.6 310.9h1.0v1.0h-1.0zM136.7 300.5h1.0v1.0h-1.0zM139.5 309.7h1.0v1.0h-1.0zM116.1 317.1h1.0v1.0h-1.0zM126.3 313.5h1.0v1.0h-1.0zM123.8 295.4h1.0v1.0h-1.0zM125.7 307.1h1.0v1.0h-1.0zM115.9 298.5h1.0v1.0h-1.0zM140.6 303.5h1.0v1.0h-1.0zM140.4 302.8h1.0v1.0h-1.0zM131.9 312.1h1.0v1.0h-1.0zM139.5 305.2h1.0v1.0h-1.0zM128.7 311.7h1.0v1.0h-1.0zM120.8 310.8h1.0v1.0h-1.0zM131.5 301.6h1.0v1.0h-1.0zM129.1 298.9h1.0v1.0h-1.0zM114.8 317.3h1.0v1.0h-1.0zM119.7 309.6h1.0v1.0h-1.0zM140.3 296.5h1.0v1.0h-1.0zM138.6 296.3h1.0v1.0h-1.0zM110.8 310.4h1.0v1.0h-1.0zM122.8 310.6h1.0v1.0h-1.0zM117.4 312.2h1.0v1.0h-1.0zM113.7 310.6h1.0v1.0h-1.0zM140.5 303.2h1.0v1.0h-1.0zM112.3 305.1h1.0v1.0h-1.0zM112.0 316.3h1.0v1.0h-1.0zM141.1 313.2h1.0v1.0h-1.0zM128.0 317.7h1.0v1.0h-1.0zM114.0 311.9h1.0v1.0h-1.0zM125.6 311.8h1.0v1.0h-1.0zM140.5 305.9h1.0v1.0h-1.0zM125.5 308.5h1.0v1.0h-1.0zM130.1 312.1h1.0v1.0h-1.0zM135.1 308.7h1.0v1.0h-1.0zM140.4 305.2h1.0v1.0h-1.0zM115.2 301.8h1.0v1.0h-1.0zM127.6 312.6h1.0v1.0h-1.0zM130.6 310.9h1.0v1.0h-1.0zM112.8 310.9h1.0v1.0h-1.0z"/>
<path fill="#d8b080" d="M118.3 308.6h1.0v1.0h-1.0zM113.7 314.0h1.0v1.0h-1.0zM125.8 303.5h1.0v1.0h-1.0zM136.5 302.6h1.0v1.0h-1.0zM112.6 302.0h1.0v1.0h-1.0zM140.6 310.1h1.0v1.0h-1.0zM135.6 295.2h1.0v1.0h-1.0zM135.5 310.5h1.0v1.0h-1.0zM130.6 308.7h1.0v1.0h-1.0zM135.9 305.7h1.0v1.0h-1.0zM112.3 323.9h1.0v1.0h-1.0zM122.5 299.7h1.0v1.0h-1.0zM138.1 307.0h1.0v1.0h-1.0zM124.5 313.8h1.0v1.0h-1.0zM133.6 303.7h1.0v1.0h-1.0zM126.4 321.9h1.0v1.0h-1.0zM123.3 314.6h1.0v1.0h-1.0zM121.4 310.6h1.0v1.0h-1.0zM122.8 308.8h1.0v1.0h-1.0zM129.5 308.7h1.0v1.0h-1.0zM111.5 303.0h1.0v1.0h-1.0zM111.1 309.0h1.0v1.0h-1.0zM130.7 306.9h1.0v1.0h-1.0zM121.2 303.9h1.0v1.0h-1.0zM115.0 306.7h1.0v1.0h-1.0zM120.5 309.8h1.0v1.0h-1.0zM138.3 300.7h1.0v1.0h-1.0zM121.4 304.1h1.0v1.0h-1.0zM132.6 316.0h1.0v1.0h-1.0zM115.3 304.3h1.0v1.0h-1.0zM121.3 306.4h1.0v1.0h-1.0zM114.0 308.7h1.0v1.0h-1.0zM129.3 311.9h1.0v1.0h-1.0zM117.0 315.9h1.0v1.0h-1.0zM119.9 308.1h1.0v1.0h-1.0zM121.8 309.0h1.0v1.0h-1.0zM110.8 308.7h1.0v1.0h-1.0zM130.7 298.7h1.0v1.0h-1.0zM117.9 302.9h1.0v1.0h-1.0zM129.2 308.0h1.0v1.0h-1.0zM113.3 311.0h1.0v1.0h-1.0zM112.7 302.4h1.0v1.0h-1.0zM129.7 296.9h1.0v1.0h-1.0zM126.9 304.3h1.0v1.0h-1.0zM136.8 309.6h1.0v1.0h-1.0zM127.5 310.3h1.0v1.0h-1.0zM128.3 314.0h1.0v1.0h-1.0zM114.7 301.5h1.0v1.0h-1.0zM124.8 310.2h1.0v1.0h-1.0zM124.1 313.6h1.0v1.0h-1.0zM141.3 301.7h1.0v1.0h-1.0zM135.3 308.5h1.0v1.0h-1.0zM111.1 292.4h1.0v1.0h-1.0zM126.9 324.5h1.0v1.0h-1.0zM138.9 303.4h1.0v1.0h-1.0zM137.5 309.2h1.0v1.0h-1.0zM128.6 306.1h1.0v1.0h-1.0zM117.8 305.3h1.0v1.0h-1.0zM129.1 316.5h1.0v1.0h-1.0zM127.1 313.6h1.0v1.0h-1.0zM115.9 314.4h1.0v1.0h-1.0zM137.6 307.6h1.0v1.0h-1.0zM139.2 293.0h1.0v1.0h-1.0z"/>
<path fill="#e8c080" d="M118.6 312.1h1.0v1.0h-1.0zM126.7 301.3h1.0v1.0h-1.0zM119.0 301.6h1.0v1.0h-1.0zM124.8 311.9h1.0v1.0h-1.0zM115.6 314.0h1.0v1.0h-1.0zM117.5 310.7h1.0v1.0h-1.0zM126.6 308.6h1.0v1.0h-1.0zM137.9 310.3h1.0v1.0h-1.0zM119.4 316.9h1.0v1.0h-1.0zM124.8 300.8h1.0v1.0h-1.0zM118.0 309.2h1.0v1.0h-1.0zM140.6 314.5h1.0v1.0h-1.0zM115.4 318.2h1.0v1.0h-1.0zM136.0 299.0h1.0v1.0h-1.0zM128.7 311.4h1.0v1.0h-1.0zM110.7 306.8h1.0v1.0h-1.0zM124.0 314.5h1.0v1.0h-1.0zM136.5 311.6h1.0v1.0h-1.0zM133.0 307.9h1.0v1.0h-1.0zM139.3 310.0h1.0v1.0h-1.0zM125.6 310.9h1.0v1.0h-1.0zM138.0 312.8h1.0v1.0h-1.0zM116.6 308.6h1.0v1.0h-1.0zM125.7 310.0h1.0v1.0h-1.0zM124.4 307.4h1.0v1.0h-1.0zM110.7 312.1h1.0v1.0h-1.0zM129.2 303.5h1.0v1.0h-1.0zM114.1 302.7h1.0v1.0h-1.0zM123.6 314.0h1.0v1.0h-1.0zM116.9 312.3h1.0v1.0h-1.0zM113.2 305.6h1.0v1.0h-1.0zM119.3 317.8h1.0v1.0h-1.0zM130.9 306.7h1.0v1.0h-1.0zM123.4 303.3h1.0v1.0h-1.0zM113.3 305.4h1.0v1.0h-1.0zM124.2 304.5h1.0v1.0h-1.0zM114.8 309.9h1.0v1.0h-1.0zM125.0 309.8h1.0v1.0h-1.0zM118.7 292.9h1.0v1.0h-1.0zM113.8 312.0h1.0v1.0h-1.0zM114.9 308.4h1.0v1.0h-1.0zM126.5 303.6h1.0v1.0h-1.0zM138.5 310.4h1.0v1.0h-1.0zM117.9 305.2h1.0v1.0h-1.0zM133.3 314.0h1.0v1.0h-1.0zM131.6 304.2h1.0v1.0h-1.0zM126.4 302.9h1.0v1.0h-1.0zM141.4 308.3h1.0v1.0h-1.0zM122.7 302.6h1.0v1.0h-1.0zM129.9 310.4h1.0v1.0h-1.0zM120.8 317.9h1.0v1.0h-1.0zM137.9 315.4h1.0v1.0h-1.0zM110.7 312.2h1.0v1.0h-1.0zM128.6 306.3h1.0v1.0h-1.0zM121.6 312.8h1.0v1.0h-1.0zM134.6 313.5h1.0v1.0h-1.0z"/>
<path fill="#e09050" d="M127.3 308.6h1.0v1.0h-1.0zM132.0 296.5h1.0v1.0h-1.0zM122.9 312.6h1.0v1.0h-1.0zM135.8 309.1h1.0v1.0h-1.0zM111.6 305.3h1.0v1.0h-1.0zM119.0 304.6h1.0v1.0h-1.0zM113.1 304.8h1.0v1.0h-1.0zM128.4 306.6h1.0v1.0h-1.0zM130.9 312.5h1.0v1.0h-1.0zM123.3 312.5h1.0v1.0h-1.0zM137.6 307.9h1.0v1.0h-1.0zM140.5 314.5h1.0v1.0h-1.0zM127.2 314.6h1.0v1.0h-1.0zM126.0 307.6h1.0v1.0h-1.0zM134.3 313.9h1.0v1.0h-1.0zM130.8 306.6h1.0v1.0h-1.0zM131.9 308.4h1.0v1.0h-1.0zM134.3 297.8h1.0v1.0h-1.0zM126.6 309.5h1.0v1.0h-1.0zM113.8 310.7h1.0v1.0h-1.0zM131.7 306.2h1.0v1.0h-1.0zM124.1 313.4h1.0v1.0h-1.0zM117.9 308.5h1.0v1.0h-1.0zM140.9 315.5h1.0v1.0h-1.0zM118.0 310.5h1.0v1.0h-1.0zM117.2 301.6h1.0v1.0h-1.0zM129.0 292.5h1.0v1.0h-1.0zM118.1 314.1h1.0v1.0h-1.0zM126.3 314.5h1.0v1.0h-1.0zM133.3 308.1h1.0v1.0h-1.0zM127.6 299.0h1.0v1.0h-1.0zM136.5 298.5h1.0v1.0h-1.0zM125.9 295.6h1.0v1.0h-1.0zM137.6 300.0h1.0v1.0h-1.0zM141.4 305.1h1.0v1.0h-1.0zM131.3 308.3h1.0v1.0h-1.0zM124.3 308.9h1.0v1.0h-1.0zM113.1 304.8h1.0v1.0h-1.0zM110.6 308.5h1.0v1.0h-1.0zM128.1 301.3h1.0v1.0h-1.0zM124.8 309.3h1.0v1.0h-1.0zM138.7 317.9h1.0v1.0h-1.0zM132.9 304.0h1.0v1.0h-1.0zM115.1 316.9h1.0v1.0h-1.0zM122.0 303.0h1.0v1.0h-1.0zM132.5 308.9h1.0v1.0h-1.0zM129.9 307.9h1.0v1.0h-1.0zM128.0 308.5h1.0v1.0h-1.0zM132.4 297.7h1.0v1.0h-1.0zM111.8 307.2h1.0v1.0h-1.0zM121.5 305.0h1.0v1.0h-1.0zM118.4 310.1h1.0v1.0h-1.0zM137.6 302.9h1.0v1.0h-1.0zM137.6 298.8h1.0v1.0h-1.0zM112.8 302.2h1.0v1.0h-1.0zM137.6 302.4h1.0v1.0h-1.0zM138.2 313.2h1.0v1.0h-1.0zM122.5 307.6h1.0v1.0h-1.0zM121.6 314.4h1.0v1.0h-1.0zM121.4 312.4h1.0v1.0h-1.0zM118.3 306.4h1.0v1.0h-1.0zM117.3 305.0h1.0v1.0h-1.0zM119.3 310.2h1.0v1.0h-1.0zM137.4 314.3h1.0v1.0h-1.0z"/>
<path fill="#a89080" d="M96.6 300.4h0.9v0.9h-0.9zM95.4 333.3h0.9v0.9h-0.9zM151.1 320.6h0.9v0.9h-0.9zM146.3 303.5h0.9v0.9h-0.9zM125.2 324.0h0.9v0.9h-0.9zM86.0 333.8h0.9v0.9h-0.9zM120.2 337.4h0.9v0.9h-0.9zM121.7 313.8h0.9v0.9h-0.9zM92.5 331.8h0.9v0.9h-0.9zM162.0 327.1h0.9v0.9h-0.9zM119.6 309.7h0.9v0.9h-0.9zM108.3 343.3h0.9v0.9h-0.9zM101.2 301.8h0.9v0.9h-0.9zM154.2 331.9h0.9v0.9h-0.9zM148.3 337.5h0.9v0.9h-0.9zM140.4 335.0h0.9v0.9h-0.9zM96.1 331.9h0.9v0.9h-0.9zM143.0 338.4h0.9v0.9h-0.9zM164.1 322.7h0.9v0.9h-0.9zM98.4 329.7h0.9v0.9h-0.9zM136.1 323.6h0.9v0.9h-0.9zM127.5 336.5h0.9v0.9h-0.9zM112.6 309.0h0.9v0.9h-0.9zM144.3 311.6h0.9v0.9h-0.9zM84.8 311.4h0.9v0.9h-0.9zM146.7 338.3h0.9v0.9h-0.9zM158.1 327.5h0.9v0.9h-0.9zM141.1 331.7h0.9v0.9h-0.9zM152.1 328.7h0.9v0.9h-0.9zM109.7 342.3h0.9v0.9h-0.9zM155.7 315.2h0.9v0.9h-0.9z"/>
<path fill="#b8a090" d="M113.3 315.5h0.9v0.9h-0.9zM111.0 332.2h0.9v0.9h-0.9zM164.7 319.5h0.9v0.9h-0.9zM113.5 322.9h0.9v0.9h-0.9zM94.5 299.9h0.9v0.9h-0.9zM91.8 335.2h0.9v0.9h-0.9zM96.0 327.2h0.9v0.9h-0.9zM136.3 314.7h0.9v0.9h-0.9zM114.8 339.5h0.9v0.9h-0.9zM110.6 318.3h0.9v0.9h-0.9zM165.0 334.3h0.9v0.9h-0.9zM155.2 337.8h0.9v0.9h-0.9zM162.8 305.6h0.9v0.9h-0.9zM107.0 314.1h0.9v0.9h-0.9zM155.9 310.5h0.9v0.9h-0.9zM140.2 325.8h0.9v0.9h-0.9zM119.6 305.7h0.9v0.9h-0.9zM164.4 300.0h0.9v0.9h-0.9zM145.9 320.0h0.9v0.9h-0.9zM92.3 300.4h0.9v0.9h-0.9zM88.9 304.4h0.9v0.9h-0.9zM162.6 311.3h0.9v0.9h-0.9zM107.0 314.1h0.9v0.9h-0.9zM118.3 342.4h0.9v0.9h-0.9zM134.0 340.3h0.9v0.9h-0.9zM87.7 330.1h0.9v0.9h-0.9zM122.8 328.0h0.9v0.9h-0.9zM125.9 325.6h0.9v0.9h-0.9z"/>
<path fill="#c0a088" d="M128.3 325.4h0.9v0.9h-0.9zM96.3 342.7h0.9v0.9h-0.9zM148.0 313.2h0.9v0.9h-0.9zM135.4 304.9h0.9v0.9h-0.9zM105.1 326.2h0.9v0.9h-0.9zM95.9 307.4h0.9v0.9h-0.9zM154.6 333.8h0.9v0.9h-0.9zM150.5 339.8h0.9v0.9h-0.9zM155.3 302.2h0.9v0.9h-0.9zM86.1 300.5h0.9v0.9h-0.9zM91.0 314.5h0.9v0.9h-0.9zM132.1 308.4h0.9v0.9h-0.9zM140.8 301.2h0.9v0.9h-0.9zM132.9 324.8h0.9v0.9h-0.9zM99.9 301.7h0.9v0.9h-0.9zM140.7 328.3h0.9v0.9h-0.9zM165.1 338.0h0.9v0.9h-0.9zM105.8 318.1h0.9v0.9h-0.9zM153.5 334.0h0.9v0.9h-0.9zM140.4 319.0h0.9v0.9h-0.9zM103.0 327.2h0.9v0.9h-0.9z"/>
<path fill="#985858" d="M192.3 292.3h1.05v1.05h-1.05zM219.2 295.8h1.05v1.05h-1.05zM173.3 301.1h1.05v1.05h-1.05zM188.1 302.6h1.05v1.05h-1.05zM175.4 293.8h1.05v1.05h-1.05zM208.9 306.9h1.05v1.05h-1.05zM197.8 296.0h1.05v1.05h-1.05zM216.0 293.4h1.05v1.05h-1.05zM203.7 307.9h1.05v1.05h-1.05zM176.9 291.5h1.05v1.05h-1.05zM210.8 298.8h1.05v1.05h-1.05zM218.8 306.2h1.05v1.05h-1.05zM192.8 309.2h1.05v1.05h-1.05zM180.3 304.8h1.05v1.05h-1.05zM199.6 305.5h1.05v1.05h-1.05zM216.0 304.7h1.05v1.05h-1.05zM187.2 303.2h1.05v1.05h-1.05zM210.6 309.2h1.05v1.05h-1.05zM211.8 302.7h1.05v1.05h-1.05z"/>
<path fill="#c08080" d="M173.7 299.1h1.05v1.05h-1.05zM199.8 296.3h1.05v1.05h-1.05zM199.9 289.6h1.05v1.05h-1.05zM208.5 298.6h1.05v1.05h-1.05zM217.7 301.7h1.05v1.05h-1.05zM211.1 299.7h1.05v1.05h-1.05zM174.8 292.7h1.05v1.05h-1.05zM173.1 306.5h1.05v1.05h-1.05zM208.4 300.9h1.05v1.05h-1.05zM218.7 301.9h1.05v1.05h-1.05zM219.5 291.0h1.05v1.05h-1.05zM171.5 300.6h1.05v1.05h-1.05z"/>
<path fill="#c89090" d="M223.1 300.9h1.05v1.05h-1.05zM210.2 297.7h1.05v1.05h-1.05zM195.5 306.8h1.05v1.05h-1.05zM184.9 305.7h1.05v1.05h-1.05zM205.3 299.2h1.05v1.05h-1.05zM189.9 306.4h1.05v1.05h-1.05zM188.6 309.6h1.05v1.05h-1.05zM192.3 304.8h1.05v1.05h-1.05zM175.7 294.6h1.05v1.05h-1.05zM223.7 298.5h1.05v1.05h-1.05zM214.1 302.8h1.05v1.05h-1.05zM210.7 306.9h1.05v1.05h-1.05zM201.7 303.5h1.05v1.05h-1.05zM209.0 298.9h1.05v1.05h-1.05zM223.6 303.5h1.05v1.05h-1.05zM215.6 298.0h1.05v1.05h-1.05zM193.0 309.6h1.05v1.05h-1.05z"/>
<path fill="#b06868" d="M217.1 292.2h1.05v1.05h-1.05zM195.7 309.0h1.05v1.05h-1.05zM185.4 298.8h1.05v1.05h-1.05zM211.9 303.8h1.05v1.05h-1.05zM170.5 302.8h1.05v1.05h-1.05zM191.3 301.8h1.05v1.05h-1.05zM198.3 308.7h1.05v1.05h-1.05zM179.7 294.4h1.05v1.05h-1.05zM195.0 293.3h1.05v1.05h-1.05zM176.3 300.9h1.05v1.05h-1.05zM175.4 302.8h1.05v1.05h-1.05zM227.4 297.4h1.05v1.05h-1.05zM220.0 303.8h1.05v1.05h-1.05zM181.1 311.2h1.05v1.05h-1.05z"/>
<path fill="#b89090" d="M59.6 310.6h0.9v0.9h-0.9zM65.4 323.7h0.9v0.9h-0.9zM59.1 332.2h0.9v0.9h-0.9zM74.6 320.6h0.9v0.9h-0.9zM58.2 332.1h0.9v0.9h-0.9zM67.5 318.5h0.9v0.9h-0.9zM71.7 309.2h0.9v0.9h-0.9zM77.6 308.6h0.9v0.9h-0.9zM75.5 313.4h0.9v0.9h-0.9zM76.4 328.5h0.9v0.9h-0.9zM62.3 312.3h0.9v0.9h-0.9zM58.3 328.5h0.9v0.9h-0.9zM58.4 313.3h0.9v0.9h-0.9zM59.5 309.0h0.9v0.9h-0.9zM65.3 324.9h0.9v0.9h-0.9zM55.5 315.1h0.9v0.9h-0.9zM79.5 332.7h0.9v0.9h-0.9zM76.8 331.9h0.9v0.9h-0.9zM66.7 330.5h0.9v0.9h-0.9zM59.6 318.7h0.9v0.9h-0.9zM69.0 313.5h0.9v0.9h-0.9zM78.7 314.9h0.9v0.9h-0.9z"/>
<path fill="#a08080" d="M58.0 330.9h0.9v0.9h-0.9zM67.0 324.8h0.9v0.9h-0.9zM74.2 333.1h0.9v0.9h-0.9zM60.1 329.6h0.9v0.9h-0.9zM64.3 305.5h0.9v0.9h-0.9zM61.8 315.0h0.9v0.9h-0.9z"/>
<path fill="#b08080" d="M100.6 345.8h1.0v1.0h-1.0zM92.2 348.2h1.0v1.0h-1.0zM89.9 350.0h1.0v1.0h-1.0zM88.2 350.2h1.0v1.0h-1.0zM91.3 345.9h1.0v1.0h-1.0zM98.0 346.1h1.0v1.0h-1.0zM97.8 350.2h1.0v1.0h-1.0zM99.0 348.3h1.0v1.0h-1.0z"/>
<path fill="#8a4040" d="M227.5 296.2h1.2v1.2h-1.2zM227.5 298.7h1.2v1.2h-1.2zM227.6 297.4h1.2v1.2h-1.2zM227.9 293.5h1.2v1.2h-1.2zM228.4 289.5h1.2v1.2h-1.2zM227.7 304.3h1.2v1.2h-1.2zM227.9 302.4h1.2v1.2h-1.2zM228.7 295.5h1.2v1.2h-1.2zM227.6 288.2h1.2v1.2h-1.2zM228.7 288.6h1.2v1.2h-1.2zM228.1 296.6h1.2v1.2h-1.2zM227.6 295.3h1.2v1.2h-1.2zM227.6 296.6h1.2v1.2h-1.2zM228.2 293.4h1.2v1.2h-1.2z"/>
<ellipse cx="105.3" cy="313.6" rx="4.4" ry="12.8" transform="rotate(21 105.3 313.6)" fill="#ef6a16"/>
<circle cx="148.6" cy="306.8" r="2.6" fill="#ee6a1c"/>
<path d="M52.6 403V323Q52.8 317.8 56.6 317.2L57 319Q54.6 321 54.6 326V335Q54.2 340 54.2 345V403Z" fill="#d22a1c"/>
<path fill="#ef6a16" d="M103.2 319.2h1.2v1.2h-1.2zM103.9 316.1h1.2v1.2h-1.2zM100.3 325.8h1.2v1.2h-1.2zM99.8 310.8h1.2v1.2h-1.2zM109.8 316.3h1.2v1.2h-1.2zM100.3 312.1h1.2v1.2h-1.2zM103.0 307.4h1.2v1.2h-1.2zM101.4 323.5h1.2v1.2h-1.2zM104.2 317.3h1.2v1.2h-1.2zM106.6 314.9h1.2v1.2h-1.2zM103.0 311.5h1.2v1.2h-1.2zM106.1 311.4h1.2v1.2h-1.2zM104.0 310.0h1.2v1.2h-1.2zM103.6 305.3h1.2v1.2h-1.2zM105.3 310.5h1.2v1.2h-1.2zM101.6 321.5h1.2v1.2h-1.2zM105.4 312.8h1.2v1.2h-1.2zM104.5 305.2h1.2v1.2h-1.2zM107.5 307.7h1.2v1.2h-1.2zM108.1 306.5h1.2v1.2h-1.2zM105.2 312.5h1.2v1.2h-1.2zM107.8 311.2h1.2v1.2h-1.2zM103.3 314.0h1.2v1.2h-1.2zM101.0 323.2h1.2v1.2h-1.2zM105.3 309.3h1.2v1.2h-1.2zM102.9 315.5h1.2v1.2h-1.2zM103.7 317.3h1.2v1.2h-1.2zM96.0 326.9h1.2v1.2h-1.2zM108.9 314.1h1.2v1.2h-1.2zM101.6 312.8h1.2v1.2h-1.2zM110.6 299.4h1.2v1.2h-1.2zM108.0 303.7h1.2v1.2h-1.2zM102.6 321.7h1.2v1.2h-1.2zM110.4 304.4h1.2v1.2h-1.2zM105.8 319.5h1.2v1.2h-1.2zM102.8 315.6h1.2v1.2h-1.2zM108.9 312.0h1.2v1.2h-1.2zM105.9 309.3h1.2v1.2h-1.2zM112.1 300.5h1.2v1.2h-1.2zM110.1 308.0h1.2v1.2h-1.2zM110.4 303.6h1.2v1.2h-1.2zM103.9 308.4h1.2v1.2h-1.2zM110.2 303.5h1.2v1.2h-1.2zM107.5 309.4h1.2v1.2h-1.2zM108.2 311.9h1.2v1.2h-1.2zM106.2 312.1h1.2v1.2h-1.2zM109.6 312.1h1.2v1.2h-1.2zM100.2 325.0h1.2v1.2h-1.2zM103.3 317.1h1.2v1.2h-1.2zM102.6 313.4h1.2v1.2h-1.2zM99.3 311.6h1.2v1.2h-1.2zM106.6 303.0h1.2v1.2h-1.2zM98.9 318.7h1.2v1.2h-1.2zM109.1 303.8h1.2v1.2h-1.2zM110.4 310.0h1.2v1.2h-1.2zM103.3 314.0h1.2v1.2h-1.2zM105.7 301.9h1.2v1.2h-1.2zM100.4 319.5h1.2v1.2h-1.2zM110.4 303.9h1.2v1.2h-1.2zM107.3 314.0h1.2v1.2h-1.2zM105.7 313.5h1.2v1.2h-1.2zM107.9 307.0h1.2v1.2h-1.2zM104.2 307.7h1.2v1.2h-1.2zM102.5 316.3h1.2v1.2h-1.2zM98.4 321.6h1.2v1.2h-1.2zM104.6 308.7h1.2v1.2h-1.2zM105.3 316.0h1.2v1.2h-1.2zM106.3 305.9h1.2v1.2h-1.2zM106.0 302.2h1.2v1.2h-1.2zM104.9 320.4h1.2v1.2h-1.2zM107.8 317.4h1.2v1.2h-1.2zM103.8 317.7h1.2v1.2h-1.2zM107.4 312.0h1.2v1.2h-1.2zM100.7 326.3h1.2v1.2h-1.2zM104.0 302.8h1.2v1.2h-1.2zM100.8 316.6h1.2v1.2h-1.2zM108.1 311.7h1.2v1.2h-1.2zM106.3 313.1h1.2v1.2h-1.2zM106.6 309.7h1.2v1.2h-1.2zM104.6 312.7h1.2v1.2h-1.2zM102.3 327.5h1.2v1.2h-1.2zM99.4 314.6h1.2v1.2h-1.2zM102.5 318.8h1.2v1.2h-1.2zM105.4 318.5h1.2v1.2h-1.2zM108.7 307.6h1.2v1.2h-1.2zM97.1 321.7h1.2v1.2h-1.2zM109.6 307.9h1.2v1.2h-1.2zM106.1 318.0h1.2v1.2h-1.2zM97.1 316.3h1.2v1.2h-1.2zM99.9 319.2h1.2v1.2h-1.2zM104.8 307.7h1.2v1.2h-1.2zM101.7 310.2h1.2v1.2h-1.2zM108.5 309.5h1.2v1.2h-1.2zM95.7 324.5h1.2v1.2h-1.2zM107.3 318.6h1.2v1.2h-1.2zM106.2 304.9h1.2v1.2h-1.2zM99.7 314.9h1.2v1.2h-1.2zM110.0 307.3h1.2v1.2h-1.2zM105.3 311.1h1.2v1.2h-1.2zM103.0 315.7h1.2v1.2h-1.2zM110.9 310.6h1.2v1.2h-1.2zM104.2 320.2h1.2v1.2h-1.2zM104.4 311.6h1.2v1.2h-1.2zM99.2 318.3h1.2v1.2h-1.2zM105.0 308.3h1.2v1.2h-1.2zM106.8 307.6h1.2v1.2h-1.2zM103.0 310.1h1.2v1.2h-1.2zM108.5 312.8h1.2v1.2h-1.2zM109.2 304.2h1.2v1.2h-1.2zM96.2 322.4h1.2v1.2h-1.2zM107.2 303.0h1.2v1.2h-1.2zM103.1 316.5h1.2v1.2h-1.2zM102.8 305.9h1.2v1.2h-1.2zM107.4 307.3h1.2v1.2h-1.2zM104.3 319.4h1.2v1.2h-1.2zM106.7 310.5h1.2v1.2h-1.2zM106.0 308.9h1.2v1.2h-1.2zM103.7 314.7h1.2v1.2h-1.2zM101.8 318.6h1.2v1.2h-1.2zM111.8 311.6h1.2v1.2h-1.2zM103.6 318.2h1.2v1.2h-1.2zM106.7 311.9h1.2v1.2h-1.2zM101.4 318.6h1.2v1.2h-1.2zM105.0 316.4h1.2v1.2h-1.2zM101.5 316.0h1.2v1.2h-1.2zM106.9 312.3h1.2v1.2h-1.2zM101.3 326.7h1.2v1.2h-1.2zM99.1 315.0h1.2v1.2h-1.2zM105.1 303.4h1.2v1.2h-1.2zM102.9 316.0h1.2v1.2h-1.2zM107.4 305.6h1.2v1.2h-1.2zM102.7 308.2h1.2v1.2h-1.2zM106.6 307.7h1.2v1.2h-1.2zM97.3 322.4h1.2v1.2h-1.2zM103.1 311.1h1.2v1.2h-1.2zM104.8 308.7h1.2v1.2h-1.2zM105.5 311.0h1.2v1.2h-1.2zM108.8 306.0h1.2v1.2h-1.2zM96.9 323.6h1.2v1.2h-1.2zM102.8 317.5h1.2v1.2h-1.2zM106.1 317.2h1.2v1.2h-1.2zM108.3 303.2h1.2v1.2h-1.2zM98.9 317.5h1.2v1.2h-1.2zM105.0 316.9h1.2v1.2h-1.2zM105.7 298.2h1.2v1.2h-1.2zM105.0 304.6h1.2v1.2h-1.2zM107.4 306.6h1.2v1.2h-1.2zM109.7 310.3h1.2v1.2h-1.2zM101.5 317.7h1.2v1.2h-1.2zM107.5 307.5h1.2v1.2h-1.2zM102.2 325.4h1.2v1.2h-1.2zM102.5 310.2h1.2v1.2h-1.2zM106.6 299.9h1.2v1.2h-1.2zM104.6 317.6h1.2v1.2h-1.2zM106.0 316.3h1.2v1.2h-1.2zM100.2 311.0h1.2v1.2h-1.2zM105.8 304.9h1.2v1.2h-1.2zM100.4 316.6h1.2v1.2h-1.2zM99.6 324.8h1.2v1.2h-1.2zM110.1 301.3h1.2v1.2h-1.2zM103.9 321.3h1.2v1.2h-1.2zM107.5 305.3h1.2v1.2h-1.2zM111.7 306.1h1.2v1.2h-1.2zM108.8 300.9h1.2v1.2h-1.2zM105.7 301.2h1.2v1.2h-1.2zM104.5 321.0h1.2v1.2h-1.2zM106.8 304.0h1.2v1.2h-1.2zM103.7 315.1h1.2v1.2h-1.2zM103.8 304.3h1.2v1.2h-1.2zM102.9 317.1h1.2v1.2h-1.2zM103.9 315.7h1.2v1.2h-1.2zM107.5 296.3h1.2v1.2h-1.2zM107.5 307.3h1.2v1.2h-1.2zM105.3 310.3h1.2v1.2h-1.2zM107.6 308.4h1.2v1.2h-1.2zM107.9 314.2h1.2v1.2h-1.2zM104.5 317.2h1.2v1.2h-1.2zM106.2 316.2h1.2v1.2h-1.2zM102.1 307.4h1.2v1.2h-1.2zM107.9 317.3h1.2v1.2h-1.2zM104.9 316.2h1.2v1.2h-1.2zM104.8 308.0h1.2v1.2h-1.2zM100.6 319.5h1.2v1.2h-1.2zM101.5 324.2h1.2v1.2h-1.2zM101.5 325.0h1.2v1.2h-1.2zM108.4 305.8h1.2v1.2h-1.2zM107.9 316.4h1.2v1.2h-1.2zM107.0 315.1h1.2v1.2h-1.2zM103.6 313.6h1.2v1.2h-1.2zM104.8 304.4h1.2v1.2h-1.2zM103.9 308.8h1.2v1.2h-1.2zM101.8 311.0h1.2v1.2h-1.2zM100.8 325.8h1.2v1.2h-1.2zM109.1 314.0h1.2v1.2h-1.2zM107.2 312.2h1.2v1.2h-1.2zM105.7 312.9h1.2v1.2h-1.2zM103.3 312.8h1.2v1.2h-1.2zM100.3 314.3h1.2v1.2h-1.2zM106.5 305.8h1.2v1.2h-1.2zM102.6 316.0h1.2v1.2h-1.2zM102.0 315.2h1.2v1.2h-1.2zM102.5 323.1h1.2v1.2h-1.2zM102.4 311.2h1.2v1.2h-1.2zM102.4 322.7h1.2v1.2h-1.2zM103.6 317.8h1.2v1.2h-1.2zM102.6 307.9h1.2v1.2h-1.2zM109.2 312.4h1.2v1.2h-1.2zM111.4 310.0h1.2v1.2h-1.2zM107.7 302.5h1.2v1.2h-1.2zM105.6 315.0h1.2v1.2h-1.2zM109.0 315.5h1.2v1.2h-1.2zM107.3 303.7h1.2v1.2h-1.2zM102.3 318.7h1.2v1.2h-1.2zM103.6 321.2h1.2v1.2h-1.2zM106.8 313.2h1.2v1.2h-1.2zM105.7 314.4h1.2v1.2h-1.2zM97.7 322.5h1.2v1.2h-1.2zM108.0 306.5h1.2v1.2h-1.2zM104.9 314.9h1.2v1.2h-1.2zM103.7 322.8h1.2v1.2h-1.2zM96.4 313.7h1.2v1.2h-1.2zM110.4 308.1h1.2v1.2h-1.2zM99.7 313.0h1.2v1.2h-1.2zM104.7 315.3h1.2v1.2h-1.2zM103.2 308.9h1.2v1.2h-1.2zM103.4 317.7h1.2v1.2h-1.2zM109.1 316.5h1.2v1.2h-1.2zM108.7 297.4h1.2v1.2h-1.2zM107.5 312.9h1.2v1.2h-1.2zM106.7 306.5h1.2v1.2h-1.2zM110.5 302.1h1.2v1.2h-1.2zM104.7 313.7h1.2v1.2h-1.2zM102.4 321.3h1.2v1.2h-1.2zM104.3 313.3h1.2v1.2h-1.2zM110.3 303.7h1.2v1.2h-1.2zM103.9 313.0h1.2v1.2h-1.2zM108.8 308.5h1.2v1.2h-1.2zM105.7 315.9h1.2v1.2h-1.2zM104.6 302.2h1.2v1.2h-1.2zM101.0 312.5h1.2v1.2h-1.2zM103.5 317.6h1.2v1.2h-1.2zM107.9 310.0h1.2v1.2h-1.2zM105.3 318.9h1.2v1.2h-1.2zM104.7 316.2h1.2v1.2h-1.2zM100.9 314.0h1.2v1.2h-1.2zM105.0 304.4h1.2v1.2h-1.2zM103.6 313.4h1.2v1.2h-1.2zM105.3 310.7h1.2v1.2h-1.2zM101.9 313.1h1.2v1.2h-1.2zM106.2 303.2h1.2v1.2h-1.2zM101.6 322.1h1.2v1.2h-1.2zM106.2 305.7h1.2v1.2h-1.2zM104.0 324.9h1.2v1.2h-1.2zM104.5 311.2h1.2v1.2h-1.2zM98.4 331.7h1.2v1.2h-1.2zM102.7 319.2h1.2v1.2h-1.2zM109.9 301.6h1.2v1.2h-1.2zM105.0 304.0h1.2v1.2h-1.2zM105.5 313.8h1.2v1.2h-1.2zM109.5 312.6h1.2v1.2h-1.2zM105.2 313.5h1.2v1.2h-1.2zM99.7 327.7h1.2v1.2h-1.2zM102.0 322.4h1.2v1.2h-1.2zM109.1 310.0h1.2v1.2h-1.2zM107.2 311.0h1.2v1.2h-1.2zM104.6 313.9h1.2v1.2h-1.2zM105.8 309.8h1.2v1.2h-1.2zM109.0 312.4h1.2v1.2h-1.2zM102.5 324.1h1.2v1.2h-1.2zM103.8 319.9h1.2v1.2h-1.2zM105.4 320.9h1.2v1.2h-1.2zM112.0 305.2h1.2v1.2h-1.2zM109.2 314.6h1.2v1.2h-1.2zM102.1 307.2h1.2v1.2h-1.2zM101.5 311.5h1.2v1.2h-1.2zM103.5 305.1h1.2v1.2h-1.2zM105.0 314.1h1.2v1.2h-1.2zM103.4 310.6h1.2v1.2h-1.2zM104.3 313.2h1.2v1.2h-1.2zM105.2 311.4h1.2v1.2h-1.2zM110.5 303.3h1.2v1.2h-1.2zM103.2 313.2h1.2v1.2h-1.2zM105.0 308.9h1.2v1.2h-1.2zM103.2 313.8h1.2v1.2h-1.2zM108.1 312.7h1.2v1.2h-1.2zM103.2 314.8h1.2v1.2h-1.2zM108.6 300.2h1.2v1.2h-1.2zM106.2 310.6h1.2v1.2h-1.2zM101.9 316.3h1.2v1.2h-1.2zM106.1 309.2h1.2v1.2h-1.2zM103.6 300.0h1.2v1.2h-1.2zM105.0 312.1h1.2v1.2h-1.2zM105.2 314.6h1.2v1.2h-1.2zM106.5 304.3h1.2v1.2h-1.2zM102.5 311.0h1.2v1.2h-1.2zM100.2 316.6h1.2v1.2h-1.2zM105.8 300.2h1.2v1.2h-1.2zM108.4 301.3h1.2v1.2h-1.2zM110.8 307.9h1.2v1.2h-1.2zM105.1 311.2h1.2v1.2h-1.2zM106.9 300.8h1.2v1.2h-1.2zM98.3 316.7h1.2v1.2h-1.2zM102.1 327.5h1.2v1.2h-1.2zM100.0 315.1h1.2v1.2h-1.2zM102.7 318.2h1.2v1.2h-1.2zM101.8 317.0h1.2v1.2h-1.2zM105.4 317.4h1.2v1.2h-1.2zM108.5 312.9h1.2v1.2h-1.2zM110.0 309.6h1.2v1.2h-1.2zM115.0 296.7h1.2v1.2h-1.2zM106.6 307.7h1.2v1.2h-1.2zM102.3 319.4h1.2v1.2h-1.2zM106.2 314.0h1.2v1.2h-1.2zM112.1 304.8h1.2v1.2h-1.2zM99.3 321.8h1.2v1.2h-1.2zM110.3 299.8h1.2v1.2h-1.2zM108.3 305.5h1.2v1.2h-1.2zM105.5 321.4h1.2v1.2h-1.2zM100.4 320.6h1.2v1.2h-1.2zM100.6 318.0h1.2v1.2h-1.2zM106.4 312.5h1.2v1.2h-1.2zM102.0 309.8h1.2v1.2h-1.2zM100.6 307.2h1.2v1.2h-1.2zM97.5 319.0h1.2v1.2h-1.2zM108.1 296.4h1.2v1.2h-1.2zM105.2 315.7h1.2v1.2h-1.2zM98.6 325.9h1.2v1.2h-1.2zM106.4 313.9h1.2v1.2h-1.2zM110.1 293.4h1.2v1.2h-1.2zM103.6 319.3h1.2v1.2h-1.2zM106.6 303.3h1.2v1.2h-1.2zM108.5 302.1h1.2v1.2h-1.2zM102.9 317.7h1.2v1.2h-1.2zM107.6 315.8h1.2v1.2h-1.2zM103.4 317.8h1.2v1.2h-1.2zM108.7 312.0h1.2v1.2h-1.2zM103.7 306.7h1.2v1.2h-1.2zM103.8 306.0h1.2v1.2h-1.2zM103.6 314.9h1.2v1.2h-1.2zM104.9 313.4h1.2v1.2h-1.2zM102.9 315.2h1.2v1.2h-1.2zM105.0 318.4h1.2v1.2h-1.2zM108.9 312.2h1.2v1.2h-1.2zM100.2 323.4h1.2v1.2h-1.2zM104.2 315.6h1.2v1.2h-1.2zM101.7 318.7h1.2v1.2h-1.2zM106.1 306.0h1.2v1.2h-1.2zM105.6 309.9h1.2v1.2h-1.2zM107.5 311.1h1.2v1.2h-1.2zM105.5 311.5h1.2v1.2h-1.2z"/>
<path fill="#ee6a1c" d="M149.6 303.8h1.1v1.1h-1.1zM141.8 300.9h1.1v1.1h-1.1zM146.5 304.2h1.1v1.1h-1.1zM139.3 307.1h1.1v1.1h-1.1zM143.1 310.1h1.1v1.1h-1.1zM143.2 311.0h1.1v1.1h-1.1zM144.3 309.8h1.1v1.1h-1.1zM155.1 300.1h1.1v1.1h-1.1zM147.1 310.0h1.1v1.1h-1.1zM148.5 308.8h1.1v1.1h-1.1zM148.8 298.6h1.1v1.1h-1.1zM144.8 302.8h1.1v1.1h-1.1zM145.9 307.0h1.1v1.1h-1.1zM147.5 310.5h1.1v1.1h-1.1zM153.4 304.3h1.1v1.1h-1.1zM142.8 306.0h1.1v1.1h-1.1zM156.5 312.2h1.1v1.1h-1.1zM137.1 308.1h1.1v1.1h-1.1zM145.2 306.5h1.1v1.1h-1.1zM142.2 301.1h1.1v1.1h-1.1zM143.7 301.6h1.1v1.1h-1.1zM144.3 301.5h1.1v1.1h-1.1zM153.1 306.7h1.1v1.1h-1.1zM145.7 307.1h1.1v1.1h-1.1zM146.7 309.4h1.1v1.1h-1.1zM152.4 304.8h1.1v1.1h-1.1zM159.2 307.0h1.1v1.1h-1.1zM146.6 303.9h1.1v1.1h-1.1zM153.1 306.2h1.1v1.1h-1.1zM155.7 305.2h1.1v1.1h-1.1zM144.5 308.2h1.1v1.1h-1.1zM140.9 303.5h1.1v1.1h-1.1zM150.3 308.5h1.1v1.1h-1.1zM147.3 310.2h1.1v1.1h-1.1zM149.2 305.4h1.1v1.1h-1.1zM148.9 303.4h1.1v1.1h-1.1zM155.2 305.0h1.1v1.1h-1.1zM157.7 309.0h1.1v1.1h-1.1zM157.8 304.5h1.1v1.1h-1.1zM145.1 316.1h1.1v1.1h-1.1zM150.4 300.9h1.1v1.1h-1.1zM157.5 300.3h1.1v1.1h-1.1zM147.3 304.9h1.1v1.1h-1.1zM143.9 311.8h1.1v1.1h-1.1zM144.1 307.0h1.1v1.1h-1.1zM150.0 306.0h1.1v1.1h-1.1zM143.6 305.2h1.1v1.1h-1.1zM150.3 308.2h1.1v1.1h-1.1zM149.7 304.9h1.1v1.1h-1.1zM152.8 302.7h1.1v1.1h-1.1zM144.7 312.8h1.1v1.1h-1.1zM151.4 301.4h1.1v1.1h-1.1zM144.7 296.5h1.1v1.1h-1.1zM153.5 299.8h1.1v1.1h-1.1zM147.5 303.2h1.1v1.1h-1.1zM150.7 299.2h1.1v1.1h-1.1zM147.9 305.9h1.1v1.1h-1.1zM152.6 313.7h1.1v1.1h-1.1zM150.3 306.5h1.1v1.1h-1.1zM149.1 307.7h1.1v1.1h-1.1zM145.1 310.1h1.1v1.1h-1.1zM137.1 299.0h1.1v1.1h-1.1zM142.6 310.3h1.1v1.1h-1.1zM153.1 309.1h1.1v1.1h-1.1zM148.9 303.5h1.1v1.1h-1.1zM150.0 308.2h1.1v1.1h-1.1zM153.1 309.7h1.1v1.1h-1.1zM147.9 305.3h1.1v1.1h-1.1zM140.6 300.7h1.1v1.1h-1.1zM154.0 308.1h1.1v1.1h-1.1zM146.9 309.6h1.1v1.1h-1.1zM154.2 313.6h1.1v1.1h-1.1zM145.1 306.9h1.1v1.1h-1.1zM148.4 304.4h1.1v1.1h-1.1zM144.5 303.3h1.1v1.1h-1.1zM147.9 312.0h1.1v1.1h-1.1zM156.9 310.9h1.1v1.1h-1.1zM160.7 308.8h1.1v1.1h-1.1zM154.5 308.5h1.1v1.1h-1.1zM145.7 300.4h1.1v1.1h-1.1zM157.9 308.0h1.1v1.1h-1.1zM146.9 302.7h1.1v1.1h-1.1zM142.4 307.5h1.1v1.1h-1.1zM148.3 302.4h1.1v1.1h-1.1zM147.8 304.2h1.1v1.1h-1.1zM145.3 301.0h1.1v1.1h-1.1zM155.8 306.7h1.1v1.1h-1.1zM145.1 308.2h1.1v1.1h-1.1zM154.9 306.7h1.1v1.1h-1.1zM150.8 301.1h1.1v1.1h-1.1zM155.5 305.9h1.1v1.1h-1.1zM141.6 311.3h1.1v1.1h-1.1zM148.5 312.4h1.1v1.1h-1.1zM149.9 304.8h1.1v1.1h-1.1zM149.9 298.5h1.1v1.1h-1.1zM147.5 302.6h1.1v1.1h-1.1zM151.4 308.3h1.1v1.1h-1.1zM149.6 306.9h1.1v1.1h-1.1zM147.8 302.6h1.1v1.1h-1.1zM135.0 298.2h1.1v1.1h-1.1zM143.3 306.7h1.1v1.1h-1.1zM154.1 303.7h1.1v1.1h-1.1zM143.9 304.0h1.1v1.1h-1.1zM154.6 310.4h1.1v1.1h-1.1zM151.6 310.9h1.1v1.1h-1.1zM153.6 306.0h1.1v1.1h-1.1zM140.4 306.6h1.1v1.1h-1.1zM154.0 306.2h1.1v1.1h-1.1zM152.2 314.1h1.1v1.1h-1.1zM151.0 303.5h1.1v1.1h-1.1zM148.3 307.1h1.1v1.1h-1.1zM137.4 305.6h1.1v1.1h-1.1zM152.1 310.6h1.1v1.1h-1.1zM145.4 304.5h1.1v1.1h-1.1zM142.9 305.9h1.1v1.1h-1.1zM149.3 299.3h1.1v1.1h-1.1zM149.0 313.4h1.1v1.1h-1.1zM140.1 301.2h1.1v1.1h-1.1zM155.3 305.3h1.1v1.1h-1.1zM148.0 300.1h1.1v1.1h-1.1zM146.8 313.6h1.1v1.1h-1.1zM147.8 306.3h1.1v1.1h-1.1zM151.3 309.6h1.1v1.1h-1.1zM152.2 306.2h1.1v1.1h-1.1zM149.7 308.6h1.1v1.1h-1.1zM151.9 310.3h1.1v1.1h-1.1zM144.4 306.8h1.1v1.1h-1.1z"/>
<path fill="#f08a30" d="M150.3 300.8h1.1v1.1h-1.1zM150.3 305.0h1.1v1.1h-1.1zM151.6 307.5h1.1v1.1h-1.1zM149.5 304.6h1.1v1.1h-1.1zM142.9 310.9h1.1v1.1h-1.1zM154.5 308.0h1.1v1.1h-1.1zM148.2 308.6h1.1v1.1h-1.1zM148.5 307.8h1.1v1.1h-1.1zM152.6 308.2h1.1v1.1h-1.1zM151.1 308.1h1.1v1.1h-1.1zM146.8 304.4h1.1v1.1h-1.1zM153.1 311.8h1.1v1.1h-1.1zM147.5 298.6h1.1v1.1h-1.1zM139.5 308.6h1.1v1.1h-1.1zM149.9 310.4h1.1v1.1h-1.1zM148.1 306.2h1.1v1.1h-1.1zM150.5 306.2h1.1v1.1h-1.1zM155.4 298.7h1.1v1.1h-1.1zM143.1 308.6h1.1v1.1h-1.1zM142.9 307.8h1.1v1.1h-1.1zM142.4 308.3h1.1v1.1h-1.1zM145.4 305.2h1.1v1.1h-1.1zM145.1 303.1h1.1v1.1h-1.1zM144.4 303.1h1.1v1.1h-1.1zM150.8 304.6h1.1v1.1h-1.1zM144.1 309.4h1.1v1.1h-1.1zM143.1 307.1h1.1v1.1h-1.1zM140.0 313.5h1.1v1.1h-1.1zM141.9 311.8h1.1v1.1h-1.1zM150.6 305.8h1.1v1.1h-1.1zM151.9 307.9h1.1v1.1h-1.1zM143.5 308.5h1.1v1.1h-1.1zM142.8 314.0h1.1v1.1h-1.1zM146.9 303.4h1.1v1.1h-1.1zM148.1 301.6h1.1v1.1h-1.1zM163.1 305.1h1.1v1.1h-1.1zM149.2 299.0h1.1v1.1h-1.1zM143.6 309.1h1.1v1.1h-1.1zM149.6 300.2h1.1v1.1h-1.1zM146.0 302.2h1.1v1.1h-1.1zM149.4 300.1h1.1v1.1h-1.1zM147.5 307.6h1.1v1.1h-1.1zM141.0 305.1h1.1v1.1h-1.1zM136.7 307.9h1.1v1.1h-1.1zM152.7 304.0h1.1v1.1h-1.1zM150.8 300.7h1.1v1.1h-1.1zM145.2 312.1h1.1v1.1h-1.1zM152.0 299.2h1.1v1.1h-1.1zM157.2 300.6h1.1v1.1h-1.1zM148.6 309.6h1.1v1.1h-1.1zM151.8 305.2h1.1v1.1h-1.1zM149.4 303.5h1.1v1.1h-1.1zM143.1 312.5h1.1v1.1h-1.1zM148.9 305.7h1.1v1.1h-1.1zM146.3 309.5h1.1v1.1h-1.1zM149.2 309.8h1.1v1.1h-1.1zM146.2 307.0h1.1v1.1h-1.1zM151.5 300.0h1.1v1.1h-1.1zM150.8 305.1h1.1v1.1h-1.1zM142.5 308.7h1.1v1.1h-1.1zM148.0 303.4h1.1v1.1h-1.1zM145.0 309.5h1.1v1.1h-1.1z"/>
<path fill="#e86018" d="M148.2 307.2h1.1v1.1h-1.1zM145.8 306.4h1.1v1.1h-1.1zM150.0 307.3h1.1v1.1h-1.1zM157.0 302.3h1.1v1.1h-1.1zM139.5 303.2h1.1v1.1h-1.1zM154.6 308.8h1.1v1.1h-1.1zM144.8 305.6h1.1v1.1h-1.1zM152.1 307.8h1.1v1.1h-1.1zM144.0 303.5h1.1v1.1h-1.1zM146.4 307.0h1.1v1.1h-1.1zM148.2 305.7h1.1v1.1h-1.1zM144.2 304.5h1.1v1.1h-1.1zM144.5 300.2h1.1v1.1h-1.1zM148.9 307.5h1.1v1.1h-1.1zM148.3 306.9h1.1v1.1h-1.1zM148.1 298.8h1.1v1.1h-1.1zM147.4 307.6h1.1v1.1h-1.1zM149.4 302.1h1.1v1.1h-1.1zM150.4 302.3h1.1v1.1h-1.1zM148.7 309.4h1.1v1.1h-1.1zM149.2 307.3h1.1v1.1h-1.1zM139.5 308.6h1.1v1.1h-1.1zM148.6 302.5h1.1v1.1h-1.1zM146.5 305.0h1.1v1.1h-1.1zM146.3 306.9h1.1v1.1h-1.1zM151.0 310.4h1.1v1.1h-1.1zM149.4 308.4h1.1v1.1h-1.1zM147.6 312.6h1.1v1.1h-1.1zM148.4 305.4h1.1v1.1h-1.1zM150.4 299.0h1.1v1.1h-1.1zM152.9 304.8h1.1v1.1h-1.1zM149.7 310.4h1.1v1.1h-1.1zM146.1 310.4h1.1v1.1h-1.1zM145.7 311.4h1.1v1.1h-1.1zM144.7 302.1h1.1v1.1h-1.1zM149.9 314.2h1.1v1.1h-1.1zM146.8 304.4h1.1v1.1h-1.1zM154.7 300.1h1.1v1.1h-1.1zM151.4 306.2h1.1v1.1h-1.1zM145.1 306.2h1.1v1.1h-1.1zM152.3 300.6h1.1v1.1h-1.1z"/>
<path fill="#b01a10" d="M52.2 357.0h1.1v1.1h-1.1zM52.1 398.1h1.1v1.1h-1.1zM52.4 367.2h1.1v1.1h-1.1zM53.9 318.3h1.1v1.1h-1.1zM52.3 352.8h1.1v1.1h-1.1zM52.9 344.6h1.1v1.1h-1.1zM53.1 374.3h1.1v1.1h-1.1zM54.6 336.5h1.1v1.1h-1.1zM53.6 330.7h1.1v1.1h-1.1zM52.6 368.1h1.1v1.1h-1.1zM53.3 390.4h1.1v1.1h-1.1zM52.3 389.1h1.1v1.1h-1.1zM52.1 345.2h1.1v1.1h-1.1zM53.6 377.1h1.1v1.1h-1.1zM53.5 368.2h1.1v1.1h-1.1zM53.2 391.8h1.1v1.1h-1.1zM53.1 371.9h1.1v1.1h-1.1zM53.5 330.5h1.1v1.1h-1.1zM52.6 364.1h1.1v1.1h-1.1zM52.5 400.9h1.1v1.1h-1.1zM52.7 359.3h1.1v1.1h-1.1zM53.2 357.8h1.1v1.1h-1.1zM52.7 347.4h1.1v1.1h-1.1zM52.8 352.6h1.1v1.1h-1.1zM53.5 381.2h1.1v1.1h-1.1zM52.3 374.0h1.1v1.1h-1.1zM52.3 360.8h1.1v1.1h-1.1zM54.6 317.6h1.1v1.1h-1.1zM53.2 401.4h1.1v1.1h-1.1zM52.3 401.9h1.1v1.1h-1.1zM53.8 363.2h1.1v1.1h-1.1zM53.2 379.0h1.1v1.1h-1.1zM52.9 352.8h1.1v1.1h-1.1zM53.7 355.4h1.1v1.1h-1.1zM53.0 359.3h1.1v1.1h-1.1zM53.5 330.9h1.1v1.1h-1.1zM53.6 316.8h1.1v1.1h-1.1zM54.0 322.4h1.1v1.1h-1.1zM53.4 358.0h1.1v1.1h-1.1zM52.6 337.1h1.1v1.1h-1.1zM53.5 330.4h1.1v1.1h-1.1zM53.2 385.9h1.1v1.1h-1.1zM53.5 399.8h1.1v1.1h-1.1zM53.1 343.2h1.1v1.1h-1.1zM53.7 348.6h1.1v1.1h-1.1zM52.6 352.5h1.1v1.1h-1.1zM51.9 344.0h1.1v1.1h-1.1zM52.7 385.6h1.1v1.1h-1.1zM52.0 345.7h1.1v1.1h-1.1zM54.0 333.4h1.1v1.1h-1.1zM54.1 329.7h1.1v1.1h-1.1zM52.7 377.7h1.1v1.1h-1.1zM53.0 345.0h1.1v1.1h-1.1zM52.5 345.1h1.1v1.1h-1.1zM53.2 334.2h1.1v1.1h-1.1zM53.2 341.7h1.1v1.1h-1.1zM54.5 317.8h1.1v1.1h-1.1zM52.8 337.4h1.1v1.1h-1.1zM52.9 336.0h1.1v1.1h-1.1zM51.9 343.2h1.1v1.1h-1.1z"/>
<path fill="#f07060" d="M53.8 322.8h1.1v1.1h-1.1zM52.4 399.6h1.1v1.1h-1.1zM53.1 345.3h1.1v1.1h-1.1zM54.1 320.0h1.1v1.1h-1.1zM52.0 346.9h1.1v1.1h-1.1zM53.5 345.7h1.1v1.1h-1.1zM52.3 369.5h1.1v1.1h-1.1zM52.4 371.4h1.1v1.1h-1.1zM51.5 341.2h1.1v1.1h-1.1zM53.7 380.8h1.1v1.1h-1.1zM53.4 347.5h1.1v1.1h-1.1zM52.8 351.6h1.1v1.1h-1.1zM52.3 384.7h1.1v1.1h-1.1zM53.5 365.5h1.1v1.1h-1.1zM52.9 343.7h1.1v1.1h-1.1zM53.4 330.1h1.1v1.1h-1.1zM53.9 398.3h1.1v1.1h-1.1zM52.1 366.9h1.1v1.1h-1.1zM53.5 323.4h1.1v1.1h-1.1zM52.0 340.3h1.1v1.1h-1.1zM53.2 355.7h1.1v1.1h-1.1zM52.9 335.0h1.1v1.1h-1.1zM53.0 400.0h1.1v1.1h-1.1zM52.1 334.7h1.1v1.1h-1.1zM53.1 395.0h1.1v1.1h-1.1zM52.1 336.4h1.1v1.1h-1.1zM53.0 393.8h1.1v1.1h-1.1zM52.8 358.9h1.1v1.1h-1.1zM51.5 343.8h1.1v1.1h-1.1zM52.8 366.8h1.1v1.1h-1.1zM53.4 337.2h1.1v1.1h-1.1zM53.2 353.4h1.1v1.1h-1.1zM54.0 322.8h1.1v1.1h-1.1zM52.8 361.2h1.1v1.1h-1.1zM52.7 353.7h1.1v1.1h-1.1zM52.4 350.9h1.1v1.1h-1.1zM52.5 374.1h1.1v1.1h-1.1zM52.7 364.8h1.1v1.1h-1.1zM54.0 324.3h1.1v1.1h-1.1zM53.6 323.7h1.1v1.1h-1.1zM53.8 320.2h1.1v1.1h-1.1zM53.1 383.6h1.1v1.1h-1.1zM53.4 337.9h1.1v1.1h-1.1zM52.6 351.0h1.1v1.1h-1.1zM53.4 379.2h1.1v1.1h-1.1zM53.0 379.5h1.1v1.1h-1.1zM52.4 345.8h1.1v1.1h-1.1zM52.8 393.5h1.1v1.1h-1.1zM53.1 401.3h1.1v1.1h-1.1zM54.3 326.4h1.1v1.1h-1.1zM53.1 339.6h1.1v1.1h-1.1zM53.7 356.7h1.1v1.1h-1.1zM53.2 383.4h1.1v1.1h-1.1z"/>
<path fill="#c81e14" d="M51.8 372.0h1.1v1.1h-1.1zM53.3 329.9h1.1v1.1h-1.1zM54.6 326.4h1.1v1.1h-1.1zM52.7 354.4h1.1v1.1h-1.1zM53.9 317.9h1.1v1.1h-1.1zM52.5 336.1h1.1v1.1h-1.1zM53.9 354.0h1.1v1.1h-1.1zM53.9 397.9h1.1v1.1h-1.1zM53.5 382.9h1.1v1.1h-1.1zM54.1 319.7h1.1v1.1h-1.1zM52.3 362.0h1.1v1.1h-1.1zM51.8 383.8h1.1v1.1h-1.1zM52.5 355.3h1.1v1.1h-1.1zM52.7 359.2h1.1v1.1h-1.1zM52.6 359.5h1.1v1.1h-1.1zM54.2 332.9h1.1v1.1h-1.1zM51.6 396.4h1.1v1.1h-1.1zM52.4 398.9h1.1v1.1h-1.1zM53.4 380.9h1.1v1.1h-1.1zM52.0 386.5h1.1v1.1h-1.1zM53.1 354.7h1.1v1.1h-1.1zM53.1 398.7h1.1v1.1h-1.1zM52.9 357.2h1.1v1.1h-1.1zM53.8 330.3h1.1v1.1h-1.1zM54.2 330.4h1.1v1.1h-1.1zM53.3 343.4h1.1v1.1h-1.1zM53.3 342.3h1.1v1.1h-1.1zM53.0 364.0h1.1v1.1h-1.1zM51.7 374.8h1.1v1.1h-1.1zM52.8 343.4h1.1v1.1h-1.1zM51.5 351.3h1.1v1.1h-1.1zM54.6 322.2h1.1v1.1h-1.1zM51.8 360.7h1.1v1.1h-1.1zM53.3 398.5h1.1v1.1h-1.1zM54.3 330.1h1.1v1.1h-1.1zM54.4 330.2h1.1v1.1h-1.1zM52.3 364.6h1.1v1.1h-1.1zM53.0 382.2h1.1v1.1h-1.1zM52.6 395.9h1.1v1.1h-1.1zM53.2 396.6h1.1v1.1h-1.1zM52.6 377.2h1.1v1.1h-1.1zM53.0 386.9h1.1v1.1h-1.1zM52.4 345.3h1.1v1.1h-1.1zM52.6 337.8h1.1v1.1h-1.1zM52.9 401.6h1.1v1.1h-1.1zM52.7 349.3h1.1v1.1h-1.1zM53.9 327.4h1.1v1.1h-1.1zM53.4 366.2h1.1v1.1h-1.1zM52.6 378.1h1.1v1.1h-1.1zM52.7 369.7h1.1v1.1h-1.1zM52.7 371.1h1.1v1.1h-1.1zM53.0 360.2h1.1v1.1h-1.1zM53.3 326.9h1.1v1.1h-1.1zM52.6 360.3h1.1v1.1h-1.1zM53.3 330.2h1.1v1.1h-1.1zM52.9 400.6h1.1v1.1h-1.1z"/>
<path fill="#e03828" d="M51.9 398.3h1.1v1.1h-1.1zM52.6 370.3h1.1v1.1h-1.1zM52.6 372.4h1.1v1.1h-1.1zM53.5 346.5h1.1v1.1h-1.1zM52.9 368.9h1.1v1.1h-1.1zM52.7 340.2h1.1v1.1h-1.1zM52.8 334.5h1.1v1.1h-1.1zM52.2 367.8h1.1v1.1h-1.1zM54.0 326.1h1.1v1.1h-1.1zM52.8 401.7h1.1v1.1h-1.1zM52.9 343.8h1.1v1.1h-1.1zM53.9 329.3h1.1v1.1h-1.1zM53.9 325.3h1.1v1.1h-1.1zM52.4 391.8h1.1v1.1h-1.1zM53.4 372.2h1.1v1.1h-1.1zM53.2 334.9h1.1v1.1h-1.1zM53.7 382.6h1.1v1.1h-1.1zM53.5 346.7h1.1v1.1h-1.1zM52.4 335.5h1.1v1.1h-1.1zM52.5 357.8h1.1v1.1h-1.1zM53.4 382.0h1.1v1.1h-1.1zM53.2 370.6h1.1v1.1h-1.1zM53.1 339.4h1.1v1.1h-1.1zM52.6 396.6h1.1v1.1h-1.1zM51.5 387.8h1.1v1.1h-1.1zM52.3 348.4h1.1v1.1h-1.1zM52.1 363.9h1.1v1.1h-1.1zM53.8 393.5h1.1v1.1h-1.1zM52.6 338.8h1.1v1.1h-1.1zM52.7 381.3h1.1v1.1h-1.1zM53.1 337.5h1.1v1.1h-1.1zM53.3 373.4h1.1v1.1h-1.1zM53.2 401.9h1.1v1.1h-1.1zM52.9 384.3h1.1v1.1h-1.1zM52.8 366.6h1.1v1.1h-1.1zM52.3 351.4h1.1v1.1h-1.1zM52.6 390.8h1.1v1.1h-1.1zM54.1 320.1h1.1v1.1h-1.1zM52.6 363.2h1.1v1.1h-1.1zM52.2 347.4h1.1v1.1h-1.1zM53.2 372.7h1.1v1.1h-1.1zM54.5 319.2h1.1v1.1h-1.1zM53.0 358.4h1.1v1.1h-1.1zM52.3 391.1h1.1v1.1h-1.1zM52.5 393.1h1.1v1.1h-1.1zM52.3 394.1h1.1v1.1h-1.1zM52.8 350.0h1.1v1.1h-1.1zM53.9 326.3h1.1v1.1h-1.1zM53.9 336.5h1.1v1.1h-1.1zM51.2 336.9h1.1v1.1h-1.1zM53.8 348.9h1.1v1.1h-1.1z"/>
<circle cx="81.2" cy="288" r="3" fill="#fff" stroke="#e08080" stroke-width="1.1"/>
<circle cx="169.4" cy="345.7" r="3" fill="#fff" stroke="#e08080" stroke-width="1.1"/>
<path d="M51.6 445.5V275.3H230.1V445.5" fill="none" stroke="#7a7a7a" stroke-width="1.1"/>
<line x1="51.1" y1="445.9" x2="230.6" y2="445.9" stroke="#333" stroke-width="1.2"/>
<path d="M50.1 445.5h1.5M50.1 441.2h1.5M50.1 437.0h1.5M50.1 432.7h1.5M50.1 428.5h1.5M50.1 424.2h1.5M50.1 420.0h1.5M50.1 415.7h1.5M50.1 411.5h1.5M50.1 407.2h1.5M50.1 402.9h1.5M50.1 398.7h1.5M50.1 394.4h1.5M50.1 390.2h1.5M50.1 385.9h1.5M50.1 381.7h1.5M50.1 377.4h1.5M50.1 373.2h1.5M50.1 368.9h1.5M50.1 364.7h1.5M50.1 360.4h1.5M50.1 356.1h1.5M50.1 351.9h1.5M50.1 347.6h1.5M50.1 343.4h1.5M50.1 339.1h1.5M50.1 334.9h1.5M50.1 330.6h1.5M50.1 326.4h1.5M50.1 322.1h1.5M50.1 317.9h1.5M50.1 313.6h1.5M50.1 309.3h1.5M50.1 305.1h1.5M50.1 300.8h1.5M50.1 296.6h1.5M50.1 292.3h1.5M50.1 288.1h1.5M50.1 283.8h1.5M50.1 279.6h1.5M50.1 275.3h1.5M51.6 446v2.8M55.1 446v1.8M58.7 446v1.8M62.2 446v1.8M65.8 446v1.8M69.3 446v2.8M72.9 446v1.8M76.5 446v1.8M80.0 446v1.8M83.5 446v1.8M87.1 446v2.8M90.7 446v1.8M94.2 446v1.8M97.8 446v1.8M101.3 446v1.8M104.8 446v2.8M108.4 446v1.8M112.0 446v1.8M115.5 446v1.8M119.1 446v1.8M122.6 446v2.8M126.2 446v1.8M129.7 446v1.8M133.2 446v1.8M136.8 446v1.8M140.3 446v2.8M143.9 446v1.8M147.5 446v1.8M151.0 446v1.8M154.6 446v1.8M158.1 446v2.8M161.7 446v1.8M165.2 446v1.8M168.8 446v1.8M172.3 446v1.8M175.8 446v2.8M179.4 446v1.8M182.9 446v1.8M186.5 446v1.8M190.0 446v1.8M193.6 446v2.8M197.1 446v1.8M200.7 446v1.8M204.2 446v1.8M207.8 446v1.8M211.3 446v2.8M214.9 446v1.8M218.4 446v1.8M222.0 446v1.8M225.6 446v1.8M229.1 446v2.8" stroke="#555" stroke-width="0.8"/>
<text x="42.25" y="448.60" font-family="Liberation Sans, sans-serif" font-size="8.8" fill="#111" textLength="4.89" lengthAdjust="spacingAndGlyphs">0</text>
<text x="42.33" y="406.05" font-family="Liberation Sans, sans-serif" font-size="8.8" fill="#111" textLength="4.89" lengthAdjust="spacingAndGlyphs">1</text>
<text x="42.36" y="363.50" font-family="Liberation Sans, sans-serif" font-size="8.8" fill="#111" textLength="4.89" lengthAdjust="spacingAndGlyphs">2</text>
<text x="42.29" y="320.95" font-family="Liberation Sans, sans-serif" font-size="8.8" fill="#111" textLength="4.89" lengthAdjust="spacingAndGlyphs">3</text>
<text x="42.16" y="278.40" font-family="Liberation Sans, sans-serif" font-size="8.8" fill="#111" textLength="4.89" lengthAdjust="spacingAndGlyphs">4</text>
<text x="49.35" y="456.90" font-family="Liberation Sans, sans-serif" font-size="8.8" fill="#111" textLength="4.89" lengthAdjust="spacingAndGlyphs">0</text>
<text x="66.99" y="456.90" font-family="Liberation Sans, sans-serif" font-size="8.8" fill="#111" textLength="4.89" lengthAdjust="spacingAndGlyphs">1</text>
<text x="84.86" y="456.90" font-family="Liberation Sans, sans-serif" font-size="8.8" fill="#111" textLength="4.89" lengthAdjust="spacingAndGlyphs">2</text>
<text x="102.63" y="456.90" font-family="Liberation Sans, sans-serif" font-size="8.8" fill="#111" textLength="4.89" lengthAdjust="spacingAndGlyphs">3</text>
<text x="120.38" y="456.90" font-family="Liberation Sans, sans-serif" font-size="8.8" fill="#111" textLength="4.89" lengthAdjust="spacingAndGlyphs">4</text>
<text x="138.11" y="456.90" font-family="Liberation Sans, sans-serif" font-size="8.8" fill="#111" textLength="4.89" lengthAdjust="spacingAndGlyphs">5</text>
<text x="155.82" y="456.90" font-family="Liberation Sans, sans-serif" font-size="8.8" fill="#111" textLength="4.89" lengthAdjust="spacingAndGlyphs">6</text>
<text x="173.61" y="456.90" font-family="Liberation Sans, sans-serif" font-size="8.8" fill="#111" textLength="4.89" lengthAdjust="spacingAndGlyphs">7</text>
<text x="191.36" y="456.90" font-family="Liberation Sans, sans-serif" font-size="8.8" fill="#111" textLength="4.89" lengthAdjust="spacingAndGlyphs">8</text>
<text x="209.10" y="456.90" font-family="Liberation Sans, sans-serif" font-size="8.8" fill="#111" textLength="4.89" lengthAdjust="spacingAndGlyphs">9</text>
<text x="224.25" y="456.90" font-family="Liberation Sans, sans-serif" font-size="8.8" fill="#111" textLength="9.79" lengthAdjust="spacingAndGlyphs">10</text>
<text x="95.33" y="467.50" font-family="Liberation Sans, sans-serif" font-size="8.4" font-weight="bold" fill="#222" textLength="89.55" lengthAdjust="spacingAndGlyphs">DNA CONTENT INDEX</text>
<text transform="translate(34.90,393.50) rotate(-90)" x="-0.34" y="0" font-family="Liberation Sans, sans-serif" font-size="8.4" font-weight="bold" fill="#222" textLength="71.12" lengthAdjust="spacingAndGlyphs">CELL SIZE INDEX</text>
<g class="pb2">
<text x="322.35" y="297.60" font-family="Liberation Sans, sans-serif" font-size="9.8" fill="#222" textLength="120.98" lengthAdjust="spacingAndGlyphs">DNA CONTENT PROFILE</text>
<path d="M329.2 330.6V353.2M329.2 347.5H355.2" stroke="#5f6f9c" stroke-width="1.3" fill="none"/>
<circle cx="329.2" cy="327.2" r="3.3" fill="#fff" stroke="#5f6f9c" stroke-width="1.3"/>
<path d="M355.2 341.5V364.3M355.2 358.5H383.1" stroke="#83445e" stroke-width="1.3" fill="none"/>
<circle cx="355.2" cy="338.1" r="3.3" fill="#fff" stroke="#83445e" stroke-width="1.3"/>
<path d="M383.1 353.1V376.1M383.1 370.3H408.2" stroke="#7a6044" stroke-width="1.3" fill="none"/>
<circle cx="383.1" cy="349.7" r="3.3" fill="#fff" stroke="#7a6044" stroke-width="1.3"/>
<path d="M408.2 364.5V388.0M408.2 388.0H408.2" stroke="#858638" stroke-width="1.3" fill="none"/>
<circle cx="408.2" cy="361.1" r="3.3" fill="#fff" stroke="#858638" stroke-width="1.3"/>
<path d="M334 415.4L334.00 414.27L334.20 414.01L334.40 413.71L334.60 413.35L334.80 412.91L335.00 412.40L335.20 411.79L335.40 411.08L335.60 410.25L335.80 409.28L336.00 408.16L336.20 406.87L336.40 405.37L336.60 403.67L336.80 401.72L337.00 399.52L337.20 397.02L337.40 394.22L337.60 391.08L337.80 387.58L338.00 383.70L338.20 379.41L338.40 374.70L338.60 369.54L338.80 363.93L339.00 357.84L339.20 351.28L339.40 344.25L339.60 336.73L339.80 328.76L340.00 320.34L340.20 311.49L340.40 302.24L340.60 302.00L340.80 302.00L341.00 302.00L341.20 302.00L341.40 302.00L341.60 302.00L341.80 302.00L342.00 302.00L342.20 302.00L342.40 302.00L342.60 302.00L342.80 302.00L343.00 302.00L343.20 302.00L343.40 302.00L343.60 302.00L343.80 302.00L344.00 302.00L344.20 302.00L344.40 302.00L344.60 302.00L344.80 302.00L345.00 302.00L345.20 302.00L345.40 302.00L345.60 302.00L345.80 302.00L346.00 302.00L346.20 302.00L346.40 302.00L346.60 302.00L346.80 302.00L347.00 302.00L347.20 302.00L347.40 302.00L347.60 302.00L347.80 302.00L348.00 302.00L348.20 302.00L348.40 302.00L348.60 302.00L348.80 302.00L349.00 302.00L349.20 302.24L349.40 311.49L349.60 320.34L349.80 328.76L350.00 336.73L350.20 344.25L350.40 351.28L350.60 357.84L350.80 363.93L351.00 369.54L351.20 374.70L351.40 379.41L351.60 383.70L351.80 387.58L352.00 391.08L352.20 394.22L352.40 397.02L352.60 399.52L352.80 401.72L353.00 403.67L353.20 405.37L353.40 406.87L353.60 408.16L353.80 409.28L354.00 410.25L354.20 411.08L354.40 411.79L354.60 412.40L354.80 412.91L355.00 413.35L355.20 413.71L355.40 414.01L355.60 414.27L355.6 415.4Z" fill="#4874c6"/>
<path d="M354.3 414.6L355.5 412L357 410.5L358.5 412L360 411L361.5 412.5L363 411.5L364.5 412L366 411L367.5 410.5L369 411.5L370.5 410L372 409.5L373.5 410.5L375 409L376.5 408.5L378 409.5L379.5 408.8L381 410L382.5 409.5L383.3 414.6Z" fill="#b34343"/>
<path d="M383.1 414.6L383.5 404L384.8 402.3L386 405L387 407.2L388.5 403L390 399L391.5 397L393 395.5L393.8 394.9L395 396.5L396.5 397.5L398.1 396.7L399.5 399L401 403L402.5 406L404.3 409.7L405.5 412L406.8 414.6Z" fill="#7c8a3a"/>
<path d="M406.8 414.6L409 413.5L410.5 411.8L412 413L414.2 412.2L415.5 414.6Z" fill="#2f7a6a"/>
<path d="M313.7 415.4L333.9 414.59999999999997" stroke="#223" stroke-width="1"/>
<path d="M285.3 415.4V302" fill="none" stroke="#b0b0b0" stroke-width="0.9"/>
<path d="M285.3 302H488.6V415.4" fill="none" stroke="#8a8a8a" stroke-width="1.1"/>
<line x1="285.3" y1="415.4" x2="488.6" y2="415.4" stroke="#222" stroke-width="1.8"/>
<path d="M282.3 415.4H285.3M283.8 409.7H285.3M282.3 404.1H285.3M283.8 398.4H285.3M282.3 392.7H285.3M283.8 387.0H285.3M282.3 381.4H285.3M283.8 375.7H285.3M282.3 370.0H285.3M283.8 364.4H285.3M282.3 358.7H285.3M283.8 353.0H285.3M282.3 347.4H285.3M283.8 341.7H285.3M282.3 336.0H285.3M283.8 330.4H285.3M282.3 324.7H285.3M283.8 319.0H285.3M282.3 313.3H285.3M283.8 307.7H285.3M282.3 302.0H285.3" stroke="#666" stroke-width="0.9"/>
<path d="M285.3 415.4v2.6M289.4 415.4v1.8M293.4 415.4v1.8M297.4 415.4v1.8M301.5 415.4v1.8M305.6 415.4v2.6M309.6 415.4v1.8M313.7 415.4v1.8M317.7 415.4v1.8M321.8 415.4v1.8M325.8 415.4v2.6M329.9 415.4v1.8M333.9 415.4v1.8M337.9 415.4v1.8M342.0 415.4v1.8M346.1 415.4v2.6M350.1 415.4v1.8M354.1 415.4v1.8M358.2 415.4v1.8M362.2 415.4v1.8M366.3 415.4v2.6M370.4 415.4v1.8M374.4 415.4v1.8M378.4 415.4v1.8M382.5 415.4v1.8M386.6 415.4v2.6M390.6 415.4v1.8M394.7 415.4v1.8M398.7 415.4v1.8M402.8 415.4v1.8M406.8 415.4v2.6M410.9 415.4v1.8M414.9 415.4v1.8M419.0 415.4v1.8M423.0 415.4v1.8M427.1 415.4v2.6M431.1 415.4v1.8M435.1 415.4v1.8M439.2 415.4v1.8M443.2 415.4v1.8M447.3 415.4v2.6M451.4 415.4v1.8M455.4 415.4v1.8M459.5 415.4v1.8M463.5 415.4v1.8M467.6 415.4v2.6M471.6 415.4v1.8M475.6 415.4v1.8M479.7 415.4v1.8M483.8 415.4v1.8M487.8 415.4v2.6" stroke="#333" stroke-width="0.9"/>
<text x="274.47" y="418.60" font-family="Liberation Sans, sans-serif" font-size="10.3" fill="#222" textLength="5.73" lengthAdjust="spacingAndGlyphs">0</text>
<text x="268.75" y="407.26" font-family="Liberation Sans, sans-serif" font-size="10.3" fill="#222" textLength="11.46" lengthAdjust="spacingAndGlyphs">20</text>
<text x="268.75" y="395.92" font-family="Liberation Sans, sans-serif" font-size="10.3" fill="#222" textLength="11.46" lengthAdjust="spacingAndGlyphs">40</text>
<text x="268.75" y="384.58" font-family="Liberation Sans, sans-serif" font-size="10.3" fill="#222" textLength="11.46" lengthAdjust="spacingAndGlyphs">60</text>
<text x="268.75" y="373.24" font-family="Liberation Sans, sans-serif" font-size="10.3" fill="#222" textLength="11.46" lengthAdjust="spacingAndGlyphs">80</text>
<text x="263.01" y="361.90" font-family="Liberation Sans, sans-serif" font-size="10.3" fill="#222" textLength="17.19" lengthAdjust="spacingAndGlyphs">100</text>
<text x="263.01" y="350.56" font-family="Liberation Sans, sans-serif" font-size="10.3" fill="#222" textLength="17.19" lengthAdjust="spacingAndGlyphs">120</text>
<text x="263.01" y="339.22" font-family="Liberation Sans, sans-serif" font-size="10.3" fill="#222" textLength="17.19" lengthAdjust="spacingAndGlyphs">140</text>
<text x="263.01" y="327.88" font-family="Liberation Sans, sans-serif" font-size="10.3" fill="#222" textLength="17.19" lengthAdjust="spacingAndGlyphs">160</text>
<text x="263.01" y="316.54" font-family="Liberation Sans, sans-serif" font-size="10.3" fill="#222" textLength="17.19" lengthAdjust="spacingAndGlyphs">180</text>
<text x="263.01" y="305.20" font-family="Liberation Sans, sans-serif" font-size="10.3" fill="#222" textLength="17.19" lengthAdjust="spacingAndGlyphs">200</text>
<text x="282.43" y="429.60" font-family="Liberation Sans, sans-serif" font-size="10.3" fill="#222" textLength="5.73" lengthAdjust="spacingAndGlyphs">0</text>
<text x="302.55" y="429.60" font-family="Liberation Sans, sans-serif" font-size="10.3" fill="#222" textLength="5.73" lengthAdjust="spacingAndGlyphs">1</text>
<text x="322.94" y="429.60" font-family="Liberation Sans, sans-serif" font-size="10.3" fill="#222" textLength="5.73" lengthAdjust="spacingAndGlyphs">2</text>
<text x="343.22" y="429.60" font-family="Liberation Sans, sans-serif" font-size="10.3" fill="#222" textLength="5.73" lengthAdjust="spacingAndGlyphs">3</text>
<text x="363.47" y="429.60" font-family="Liberation Sans, sans-serif" font-size="10.3" fill="#222" textLength="5.73" lengthAdjust="spacingAndGlyphs">4</text>
<text x="383.69" y="429.60" font-family="Liberation Sans, sans-serif" font-size="10.3" fill="#222" textLength="5.73" lengthAdjust="spacingAndGlyphs">5</text>
<text x="403.90" y="429.60" font-family="Liberation Sans, sans-serif" font-size="10.3" fill="#222" textLength="5.73" lengthAdjust="spacingAndGlyphs">6</text>
<text x="424.19" y="429.60" font-family="Liberation Sans, sans-serif" font-size="10.3" fill="#222" textLength="5.73" lengthAdjust="spacingAndGlyphs">7</text>
<text x="444.44" y="429.60" font-family="Liberation Sans, sans-serif" font-size="10.3" fill="#222" textLength="5.73" lengthAdjust="spacingAndGlyphs">8</text>
<text x="464.68" y="429.60" font-family="Liberation Sans, sans-serif" font-size="10.3" fill="#222" textLength="5.73" lengthAdjust="spacingAndGlyphs">9</text>
<text x="481.89" y="429.60" font-family="Liberation Sans, sans-serif" font-size="10.3" fill="#222" textLength="11.46" lengthAdjust="spacingAndGlyphs">10</text>
<text x="328.95" y="442.30" font-family="Liberation Sans, sans-serif" font-size="9.8" fill="#222" textLength="107.79" lengthAdjust="spacingAndGlyphs">DNA CONTENT INDEX</text>
<text transform="translate(253.30,372.00) rotate(-90)" x="-0.53" y="0" font-family="Liberation Sans, sans-serif" font-size="10.8" fill="#222" textLength="28.32" lengthAdjust="spacingAndGlyphs">Count</text>
<text x="422.31" y="313.70" font-family="Liberation Sans, sans-serif" font-size="10.5" fill="#222" textLength="60.65" lengthAdjust="spacingAndGlyphs">G0/G1 82.1</text>
<text x="453.96" y="328.00" font-family="Liberation Sans, sans-serif" font-size="10.5" fill="#222" textLength="28.09" lengthAdjust="spacingAndGlyphs">S 5.0</text>
<text x="427.30" y="341.00" font-family="Liberation Sans, sans-serif" font-size="10.5" fill="#222" textLength="55.62" lengthAdjust="spacingAndGlyphs">G2/M 12.3</text>
</g>
<text x="6.11" y="514.00" font-family="Liberation Sans, sans-serif" font-size="19.5" font-weight="bold" fill="#000" textLength="14.22" lengthAdjust="spacingAndGlyphs">C</text>
<text x="93.06" y="512.10" font-family="Liberation Serif, serif" font-size="14.8" fill="#111" textLength="47.63" lengthAdjust="spacingAndGlyphs">Percent</text>
<text x="146.72" y="512.10" font-family="Liberation Serif, serif" font-size="14.8" fill="#111" textLength="12.99" lengthAdjust="spacingAndGlyphs">of</text>
<text x="164.05" y="512.10" font-family="Liberation Serif, serif" font-size="14.8" fill="#111" textLength="27.11" lengthAdjust="spacingAndGlyphs">cells</text>
<text x="199.91" y="512.10" font-family="Liberation Serif, serif" font-size="14.8" fill="#111" textLength="80.80" lengthAdjust="spacingAndGlyphs">concentrated</text>
<text x="288.77" y="512.10" font-family="Liberation Serif, serif" font-size="14.8" fill="#111" textLength="9.11" lengthAdjust="spacingAndGlyphs">in</text>
<text x="305.93" y="512.10" font-family="Liberation Serif, serif" font-size="14.8" fill="#111" textLength="30.87" lengthAdjust="spacingAndGlyphs">each</text>
<text x="340.27" y="512.10" font-family="Liberation Serif, serif" font-size="14.8" fill="#111" textLength="35.27" lengthAdjust="spacingAndGlyphs">phase</text>
<text x="383.12" y="512.10" font-family="Liberation Serif, serif" font-size="14.8" fill="#111" textLength="15.09" lengthAdjust="spacingAndGlyphs">of</text>
<text x="400.35" y="512.10" font-family="Liberation Serif, serif" font-size="14.8" fill="#111" textLength="21.05" lengthAdjust="spacingAndGlyphs">cell</text>
<text x="428.54" y="512.10" font-family="Liberation Serif, serif" font-size="14.8" fill="#111" textLength="35.01" lengthAdjust="spacingAndGlyphs">cycle.</text>
<path d="M1.5000000000000002 526H565.4000000000001M1.5000000000000002 545.5H565.4000000000001M1.5000000000000002 565.1H565.4000000000001M1.5000000000000002 584.9H565.4000000000001M1.5000000000000002 604.1H565.4000000000001M2.2 526V604.1M222.4 526V604.1M330.2 526V604.1M447.5 526V604.1M564.7 526V604.1" stroke="#222" stroke-width="1.5" fill="none"/>
<text x="96.00" y="539.60" font-family="Liberation Serif, serif" font-size="15.5" fill="#111" textLength="30.73" lengthAdjust="spacingAndGlyphs">Cells</text>
<text x="267.57" y="539.60" font-family="Liberation Serif, serif" font-size="15.5" fill="#111" textLength="11.44" lengthAdjust="spacingAndGlyphs">G</text>
<text x="278.73" y="540.30" font-family="Liberation Serif, serif" font-size="10.5" fill="#111" textLength="4.96" lengthAdjust="spacingAndGlyphs">1</text>
<text x="384.37" y="540.10" font-family="Liberation Serif, serif" font-size="15.5" fill="#111" textLength="10.15" lengthAdjust="spacingAndGlyphs">S</text>
<text x="486.86" y="539.80" font-family="Liberation Serif, serif" font-size="15.5" fill="#111" textLength="38.21" lengthAdjust="spacingAndGlyphs">G2/M</text>
<text x="8.98" y="559.60" font-family="Liberation Serif, serif" font-size="15.5" fill="#111" textLength="129.34" lengthAdjust="spacingAndGlyphs">mHCN2-transfected</text>
<text x="9.05" y="579.50" font-family="Liberation Serif, serif" font-size="15.5" fill="#111" textLength="43.97" lengthAdjust="spacingAndGlyphs">pIRES</text>
<text x="57.41" y="579.50" font-family="Liberation Serif, serif" font-size="15.5" fill="#111" textLength="44.20" lengthAdjust="spacingAndGlyphs">control</text>
<text x="8.87" y="599.30" font-family="Liberation Serif, serif" font-size="15.5" fill="#111" textLength="55.96" lengthAdjust="spacingAndGlyphs">Negative</text>
<text x="73.23" y="599.30" font-family="Liberation Serif, serif" font-size="15.5" fill="#111" textLength="43.18" lengthAdjust="spacingAndGlyphs">control</text>
<text x="237.83" y="559.60" font-family="Liberation Sans, sans-serif" font-size="14.5" fill="#2a2a2a" textLength="76.05" lengthAdjust="spacingAndGlyphs">84.6 ± 2.5*</text>
<text x="354.56" y="559.60" font-family="Liberation Sans, sans-serif" font-size="14.5" fill="#2a2a2a" textLength="67.88" lengthAdjust="spacingAndGlyphs">4.0 ± 0.54</text>
<text x="464.05" y="559.60" font-family="Liberation Sans, sans-serif" font-size="14.5" fill="#2a2a2a" textLength="82.81" lengthAdjust="spacingAndGlyphs">10.4 ± 1.24*</text>
<text x="235.83" y="579.80" font-family="Liberation Sans, sans-serif" font-size="14.5" fill="#2a2a2a" textLength="80.52" lengthAdjust="spacingAndGlyphs">80.1± 1.75*</text>
<text x="354.55" y="579.80" font-family="Liberation Sans, sans-serif" font-size="14.5" fill="#2a2a2a" textLength="68.23" lengthAdjust="spacingAndGlyphs">4.3 ± 1.47</text>
<text x="463.64" y="579.80" font-family="Liberation Sans, sans-serif" font-size="14.5" fill="#2a2a2a" textLength="83.21" lengthAdjust="spacingAndGlyphs">13.5 ± 2.68*</text>
<text x="238.16" y="599.60" font-family="Liberation Sans, sans-serif" font-size="14.5" fill="#2a2a2a" textLength="75.68" lengthAdjust="spacingAndGlyphs">45.6 ± 2.35</text>
<text x="354.89" y="599.60" font-family="Liberation Sans, sans-serif" font-size="14.5" fill="#2a2a2a" textLength="67.78" lengthAdjust="spacingAndGlyphs">5.5 ± 1.23</text>
<text x="467.56" y="599.60" font-family="Liberation Sans, sans-serif" font-size="14.5" fill="#2a2a2a" textLength="75.59" lengthAdjust="spacingAndGlyphs">46.8 ± 3.31</text>
</svg>
</body></html>
